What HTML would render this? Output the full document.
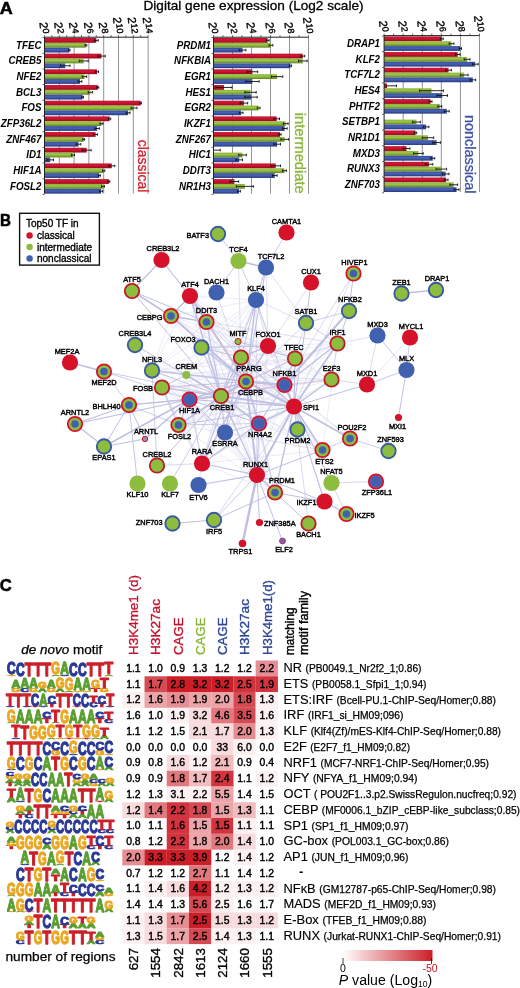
<!DOCTYPE html>
<html><head><meta charset="utf-8"><title>Figure</title>
<style>
html,body{margin:0;padding:0;background:#fff}
svg{display:block}
text{font-family:"Liberation Sans",sans-serif}
.tk{font-size:11.5px;stroke:#000;stroke-width:.35px}
.gene{font-size:10.8px;font-weight:bold;font-style:italic}
.nl{font-size:7.4px;stroke:#000;stroke-width:.42px}
.hv{font-size:10.4px;text-anchor:middle;stroke:#000;stroke-width:.42px}
.lg text{vector-effect:non-scaling-stroke}
</style></head><body>
<svg width="520" height="988" viewBox="0 0 520 988">
<rect width="520" height="988" fill="#fff"/>
<defs>
<linearGradient id="gr" x1="0" y1="0" x2="0" y2="1"><stop offset="0" stop-color="#c01030"/><stop offset="0.4" stop-color="#d01634"/><stop offset="1" stop-color="#980a1c"/></linearGradient>
<linearGradient id="gg" x1="0" y1="0" x2="0" y2="1"><stop offset="0" stop-color="#8ab23a"/><stop offset="0.4" stop-color="#a0c648"/><stop offset="1" stop-color="#5f8524"/></linearGradient>
<linearGradient id="gb" x1="0" y1="0" x2="0" y2="1"><stop offset="0" stop-color="#364c9c"/><stop offset="0.45" stop-color="#4763b8"/><stop offset="1" stop-color="#26387e"/></linearGradient>
</defs>
<text x="-0.3" y="13.8" font-size="16" font-weight="bold" stroke="#000" stroke-width="0.5" textLength="13" lengthAdjust="spacingAndGlyphs">A</text>
<text x="143.5" y="10.3" font-size="13.2" stroke="#000" stroke-width="0.3" textLength="220" lengthAdjust="spacingAndGlyphs">Digital gene expression (Log2 scale)</text>
<line x1="59.3" y1="37.2" x2="59.3" y2="193.6" stroke="#808080" stroke-width="0.85"/>
<line x1="74.1" y1="37.2" x2="74.1" y2="193.6" stroke="#808080" stroke-width="0.85"/>
<line x1="88.9" y1="37.2" x2="88.9" y2="193.6" stroke="#808080" stroke-width="0.85"/>
<line x1="103.7" y1="37.2" x2="103.7" y2="193.6" stroke="#808080" stroke-width="0.85"/>
<line x1="118.5" y1="37.2" x2="118.5" y2="193.6" stroke="#808080" stroke-width="0.85"/>
<line x1="133.3" y1="37.2" x2="133.3" y2="193.6" stroke="#808080" stroke-width="0.85"/>
<line x1="148.1" y1="37.2" x2="148.1" y2="193.6" stroke="#808080" stroke-width="0.85"/>
<text class="tk" transform="translate(40.5,33.9) rotate(85)" text-anchor="end" x="0" y="0">2<tspan dy="-2.6" font-size="9">0</tspan></text>
<text class="tk" transform="translate(55.3,33.9) rotate(85)" text-anchor="end" x="0" y="0">2<tspan dy="-2.6" font-size="9">2</tspan></text>
<text class="tk" transform="translate(70.1,33.9) rotate(85)" text-anchor="end" x="0" y="0">2<tspan dy="-2.6" font-size="9">4</tspan></text>
<text class="tk" transform="translate(84.9,33.9) rotate(85)" text-anchor="end" x="0" y="0">2<tspan dy="-2.6" font-size="9">6</tspan></text>
<text class="tk" transform="translate(99.7,33.9) rotate(85)" text-anchor="end" x="0" y="0">2<tspan dy="-2.6" font-size="9">8</tspan></text>
<text class="tk" transform="translate(114.5,33.9) rotate(85)" text-anchor="end" x="0" y="0">2<tspan dy="-2.6" font-size="9">10</tspan></text>
<text class="tk" transform="translate(129.3,33.9) rotate(85)" text-anchor="end" x="0" y="0">2<tspan dy="-2.6" font-size="9">12</tspan></text>
<text class="tk" transform="translate(144.1,33.9) rotate(85)" text-anchor="end" x="0" y="0">2<tspan dy="-2.6" font-size="9">14</tspan></text>
<rect x="44.5" y="38.00" width="51.8" height="4.8" fill="url(#gr)"/>
<path d="M94.5 40.40H98.2M98.2 39.10v2.6M94.5 39.10v2.6" stroke="#111" stroke-width="0.9" fill="none"/>
<rect x="44.5" y="42.85" width="41.4" height="4.8" fill="url(#gg)"/>
<path d="M85.1 45.25H86.8M86.8 43.95v2.6M85.1 43.95v2.6" stroke="#111" stroke-width="0.9" fill="none"/>
<rect x="44.5" y="47.70" width="24.8" height="4.8" fill="url(#gb)"/>
<path d="M68.6 50.10H70.0M70.0 48.80v2.6M68.6 48.80v2.6" stroke="#111" stroke-width="0.9" fill="none"/>
<text class="gene" x="41.5" y="48.5" text-anchor="end" textLength="25.5" lengthAdjust="spacingAndGlyphs">TFEC</text>
<rect x="44.5" y="53.68" width="57.0" height="4.8" fill="url(#gr)"/>
<path d="M97.8 56.08H105.2M105.2 54.78v2.6M97.8 54.78v2.6" stroke="#111" stroke-width="0.9" fill="none"/>
<rect x="44.5" y="58.53" width="39.2" height="4.8" fill="url(#gg)"/>
<path d="M79.3 60.93H88.2M88.2 59.63v2.6M79.3 59.63v2.6" stroke="#111" stroke-width="0.9" fill="none"/>
<rect x="44.5" y="63.38" width="20.7" height="4.8" fill="url(#gb)"/>
<path d="M60.4 65.78H70.0M70.0 64.48v2.6M60.4 64.48v2.6" stroke="#111" stroke-width="0.9" fill="none"/>
<text class="gene" x="41.5" y="64.2" text-anchor="end" textLength="33.1" lengthAdjust="spacingAndGlyphs">CREB5</text>
<rect x="44.5" y="69.36" width="52.5" height="4.8" fill="url(#gr)"/>
<path d="M95.6 71.76H98.5M98.5 70.46v2.6M95.6 70.46v2.6" stroke="#111" stroke-width="0.9" fill="none"/>
<rect x="44.5" y="74.21" width="40.0" height="4.8" fill="url(#gg)"/>
<path d="M82.2 76.61H86.7M86.7 75.31v2.6M82.2 75.31v2.6" stroke="#111" stroke-width="0.9" fill="none"/>
<rect x="44.5" y="79.06" width="35.5" height="4.8" fill="url(#gb)"/>
<path d="M78.2 81.46H81.9M81.9 80.16v2.6M78.2 80.16v2.6" stroke="#111" stroke-width="0.9" fill="none"/>
<text class="gene" x="41.5" y="79.9" text-anchor="end" textLength="25.0" lengthAdjust="spacingAndGlyphs">NFE2</text>
<rect x="44.5" y="85.04" width="53.3" height="4.8" fill="url(#gr)"/>
<path d="M96.9 87.44H98.7M98.7 86.14v2.6M96.9 86.14v2.6" stroke="#111" stroke-width="0.9" fill="none"/>
<rect x="44.5" y="89.89" width="45.9" height="4.8" fill="url(#gg)"/>
<path d="M88.2 92.29H92.6M92.6 90.99v2.6M88.2 90.99v2.6" stroke="#111" stroke-width="0.9" fill="none"/>
<rect x="44.5" y="94.74" width="38.1" height="4.8" fill="url(#gb)"/>
<path d="M81.7 97.14H83.5M83.5 95.84v2.6M81.7 95.84v2.6" stroke="#111" stroke-width="0.9" fill="none"/>
<text class="gene" x="41.5" y="95.5" text-anchor="end" textLength="25.5" lengthAdjust="spacingAndGlyphs">BCL3</text>
<rect x="44.5" y="100.72" width="96.2" height="4.8" fill="url(#gr)"/>
<path d="M140.0 103.12H141.4M141.4 101.82v2.6M140.0 101.82v2.6" stroke="#111" stroke-width="0.9" fill="none"/>
<rect x="44.5" y="105.57" width="89.5" height="4.8" fill="url(#gg)"/>
<path d="M131.1 107.97H137.0M137.0 106.67v2.6M131.1 106.67v2.6" stroke="#111" stroke-width="0.9" fill="none"/>
<rect x="44.5" y="110.42" width="83.6" height="4.8" fill="url(#gb)"/>
<path d="M126.3 112.82H130.0M130.0 111.52v2.6M126.3 111.52v2.6" stroke="#111" stroke-width="0.9" fill="none"/>
<text class="gene" x="41.5" y="111.2" text-anchor="end" textLength="20.1" lengthAdjust="spacingAndGlyphs">FOS</text>
<rect x="44.5" y="116.40" width="65.1" height="4.8" fill="url(#gr)"/>
<path d="M108.5 118.80H110.7M110.7 117.50v2.6M108.5 117.50v2.6" stroke="#111" stroke-width="0.9" fill="none"/>
<rect x="44.5" y="121.25" width="57.0" height="4.8" fill="url(#gg)"/>
<path d="M100.0 123.65H103.0M103.0 122.35v2.6M100.0 122.35v2.6" stroke="#111" stroke-width="0.9" fill="none"/>
<rect x="44.5" y="126.10" width="52.5" height="4.8" fill="url(#gb)"/>
<path d="M94.8 128.50H99.3M99.3 127.20v2.6M94.8 127.20v2.6" stroke="#111" stroke-width="0.9" fill="none"/>
<text class="gene" x="41.5" y="126.9" text-anchor="end" textLength="40.7" lengthAdjust="spacingAndGlyphs">ZFP36L2</text>
<rect x="44.5" y="132.08" width="51.1" height="4.8" fill="url(#gr)"/>
<path d="M93.7 134.48H97.4M97.4 133.18v2.6M93.7 133.18v2.6" stroke="#111" stroke-width="0.9" fill="none"/>
<rect x="44.5" y="136.93" width="39.2" height="4.8" fill="url(#gg)"/>
<path d="M82.8 139.33H84.6M84.6 138.03v2.6M82.8 138.03v2.6" stroke="#111" stroke-width="0.9" fill="none"/>
<rect x="44.5" y="141.78" width="34.0" height="4.8" fill="url(#gb)"/>
<path d="M76.3 144.18H80.8M80.8 142.88v2.6M76.3 142.88v2.6" stroke="#111" stroke-width="0.9" fill="none"/>
<text class="gene" x="41.5" y="142.6" text-anchor="end" textLength="35.3" lengthAdjust="spacingAndGlyphs">ZNF467</text>
<rect x="44.5" y="147.76" width="42.2" height="4.8" fill="url(#gr)"/>
<path d="M82.2 150.16H91.1M91.1 148.86v2.6M82.2 148.86v2.6" stroke="#111" stroke-width="0.9" fill="none"/>
<rect x="44.5" y="152.61" width="28.5" height="4.8" fill="url(#gg)"/>
<path d="M71.5 155.01H74.5M74.5 153.71v2.6M71.5 153.71v2.6" stroke="#111" stroke-width="0.9" fill="none"/>
<rect x="44.5" y="157.46" width="5.7" height="4.8" fill="url(#gb)"/>
<path d="M46.9 159.86H53.5M53.5 158.56v2.6M46.9 158.56v2.6" stroke="#111" stroke-width="0.9" fill="none"/>
<text class="gene" x="41.5" y="158.3" text-anchor="end" textLength="15.2" lengthAdjust="spacingAndGlyphs">ID1</text>
<rect x="44.5" y="163.44" width="67.3" height="4.8" fill="url(#gr)"/>
<path d="M108.9 165.84H114.8M114.8 164.54v2.6M108.9 164.54v2.6" stroke="#111" stroke-width="0.9" fill="none"/>
<rect x="44.5" y="168.29" width="59.2" height="4.8" fill="url(#gg)"/>
<path d="M102.6 170.69H104.8M104.8 169.39v2.6M102.6 169.39v2.6" stroke="#111" stroke-width="0.9" fill="none"/>
<rect x="44.5" y="173.14" width="54.8" height="4.8" fill="url(#gb)"/>
<path d="M98.2 175.54H100.4M100.4 174.24v2.6M98.2 174.24v2.6" stroke="#111" stroke-width="0.9" fill="none"/>
<text class="gene" x="41.5" y="173.9" text-anchor="end" textLength="28.2" lengthAdjust="spacingAndGlyphs">HIF1A</text>
<rect x="44.5" y="179.12" width="64.4" height="4.8" fill="url(#gr)"/>
<path d="M108.0 181.52H109.8M109.8 180.22v2.6M108.0 180.22v2.6" stroke="#111" stroke-width="0.9" fill="none"/>
<rect x="44.5" y="183.97" width="58.5" height="4.8" fill="url(#gg)"/>
<path d="M101.5 186.37H104.4M104.4 185.07v2.6M101.5 185.07v2.6" stroke="#111" stroke-width="0.9" fill="none"/>
<rect x="44.5" y="188.82" width="56.6" height="4.8" fill="url(#gb)"/>
<path d="M99.6 191.22H102.6M102.6 189.92v2.6M99.6 189.92v2.6" stroke="#111" stroke-width="0.9" fill="none"/>
<text class="gene" x="41.5" y="189.6" text-anchor="end" textLength="31.5" lengthAdjust="spacingAndGlyphs">FOSL2</text>
<path d="M44.5 37.2V193.6M44.5 37.2H148.1" stroke="#222" stroke-width="1" fill="none"/>
<line x1="44.5" y1="35.2" x2="44.5" y2="37.2" stroke="#222" stroke-width="0.7"/>
<line x1="51.9" y1="35.2" x2="51.9" y2="37.2" stroke="#222" stroke-width="0.7"/>
<line x1="59.3" y1="35.2" x2="59.3" y2="37.2" stroke="#222" stroke-width="0.7"/>
<line x1="66.7" y1="35.2" x2="66.7" y2="37.2" stroke="#222" stroke-width="0.7"/>
<line x1="74.1" y1="35.2" x2="74.1" y2="37.2" stroke="#222" stroke-width="0.7"/>
<line x1="81.5" y1="35.2" x2="81.5" y2="37.2" stroke="#222" stroke-width="0.7"/>
<line x1="88.9" y1="35.2" x2="88.9" y2="37.2" stroke="#222" stroke-width="0.7"/>
<line x1="96.3" y1="35.2" x2="96.3" y2="37.2" stroke="#222" stroke-width="0.7"/>
<line x1="103.7" y1="35.2" x2="103.7" y2="37.2" stroke="#222" stroke-width="0.7"/>
<line x1="111.1" y1="35.2" x2="111.1" y2="37.2" stroke="#222" stroke-width="0.7"/>
<line x1="118.5" y1="35.2" x2="118.5" y2="37.2" stroke="#222" stroke-width="0.7"/>
<line x1="125.9" y1="35.2" x2="125.9" y2="37.2" stroke="#222" stroke-width="0.7"/>
<line x1="133.3" y1="35.2" x2="133.3" y2="37.2" stroke="#222" stroke-width="0.7"/>
<line x1="140.7" y1="35.2" x2="140.7" y2="37.2" stroke="#222" stroke-width="0.7"/>
<line x1="148.1" y1="35.2" x2="148.1" y2="37.2" stroke="#222" stroke-width="0.7"/>
<line x1="42.5" y1="37.6" x2="44.5" y2="37.6" stroke="#222" stroke-width="0.7"/>
<line x1="42.5" y1="53.3" x2="44.5" y2="53.3" stroke="#222" stroke-width="0.7"/>
<line x1="42.5" y1="69.0" x2="44.5" y2="69.0" stroke="#222" stroke-width="0.7"/>
<line x1="42.5" y1="84.6" x2="44.5" y2="84.6" stroke="#222" stroke-width="0.7"/>
<line x1="42.5" y1="100.3" x2="44.5" y2="100.3" stroke="#222" stroke-width="0.7"/>
<line x1="42.5" y1="116.0" x2="44.5" y2="116.0" stroke="#222" stroke-width="0.7"/>
<line x1="42.5" y1="131.7" x2="44.5" y2="131.7" stroke="#222" stroke-width="0.7"/>
<line x1="42.5" y1="147.4" x2="44.5" y2="147.4" stroke="#222" stroke-width="0.7"/>
<line x1="42.5" y1="163.0" x2="44.5" y2="163.0" stroke="#222" stroke-width="0.7"/>
<line x1="42.5" y1="178.7" x2="44.5" y2="178.7" stroke="#222" stroke-width="0.7"/>
<line x1="42.5" y1="194.4" x2="44.5" y2="194.4" stroke="#222" stroke-width="0.7"/>
<text transform="translate(137.8,139.8) rotate(90)" font-size="14.3" fill="#cf1f2b" stroke="#cf1f2b" stroke-width="0.3" textLength="52.5" lengthAdjust="spacingAndGlyphs">classical</text>
<line x1="232.5" y1="37.2" x2="232.5" y2="193.6" stroke="#808080" stroke-width="0.85"/>
<line x1="251.5" y1="37.2" x2="251.5" y2="193.6" stroke="#808080" stroke-width="0.85"/>
<line x1="270.5" y1="37.2" x2="270.5" y2="193.6" stroke="#808080" stroke-width="0.85"/>
<line x1="289.5" y1="37.2" x2="289.5" y2="193.6" stroke="#808080" stroke-width="0.85"/>
<line x1="308.5" y1="37.2" x2="308.5" y2="193.6" stroke="#808080" stroke-width="0.85"/>
<text class="tk" transform="translate(209.5,33.9) rotate(85)" text-anchor="end" x="0" y="0">2<tspan dy="-2.6" font-size="9">0</tspan></text>
<text class="tk" transform="translate(228.5,33.9) rotate(85)" text-anchor="end" x="0" y="0">2<tspan dy="-2.6" font-size="9">2</tspan></text>
<text class="tk" transform="translate(247.5,33.9) rotate(85)" text-anchor="end" x="0" y="0">2<tspan dy="-2.6" font-size="9">4</tspan></text>
<text class="tk" transform="translate(266.5,33.9) rotate(85)" text-anchor="end" x="0" y="0">2<tspan dy="-2.6" font-size="9">6</tspan></text>
<text class="tk" transform="translate(285.5,33.9) rotate(85)" text-anchor="end" x="0" y="0">2<tspan dy="-2.6" font-size="9">8</tspan></text>
<text class="tk" transform="translate(304.5,33.9) rotate(85)" text-anchor="end" x="0" y="0">2<tspan dy="-2.6" font-size="9">10</tspan></text>
<rect x="213.5" y="38.00" width="54.1" height="4.8" fill="url(#gr)"/>
<path d="M266.2 40.40H269.1M269.1 39.10v2.6M266.2 39.10v2.6" stroke="#111" stroke-width="0.9" fill="none"/>
<rect x="213.5" y="42.85" width="57.5" height="4.8" fill="url(#gg)"/>
<path d="M269.1 45.25H272.9M272.9 43.95v2.6M269.1 43.95v2.6" stroke="#111" stroke-width="0.9" fill="none"/>
<rect x="213.5" y="47.70" width="29.1" height="4.8" fill="url(#gb)"/>
<path d="M239.2 50.10H245.9M245.9 48.80v2.6M239.2 48.80v2.6" stroke="#111" stroke-width="0.9" fill="none"/>
<text class="gene" x="211" y="48.5" text-anchor="end" textLength="34.2" lengthAdjust="spacingAndGlyphs">PRDM1</text>
<rect x="213.5" y="53.68" width="89.3" height="4.8" fill="url(#gr)"/>
<path d="M300.9 56.08H304.7M304.7 54.78v2.6M300.9 54.78v2.6" stroke="#111" stroke-width="0.9" fill="none"/>
<rect x="213.5" y="58.53" width="89.3" height="4.8" fill="url(#gg)"/>
<path d="M298.5 60.93H307.1M307.1 59.63v2.6M298.5 59.63v2.6" stroke="#111" stroke-width="0.9" fill="none"/>
<rect x="213.5" y="63.38" width="77.0" height="4.8" fill="url(#gb)"/>
<path d="M289.3 65.78H291.6M291.6 64.48v2.6M289.3 64.48v2.6" stroke="#111" stroke-width="0.9" fill="none"/>
<text class="gene" x="211" y="64.2" text-anchor="end" textLength="36.9" lengthAdjust="spacingAndGlyphs">NFKBIA</text>
<rect x="213.5" y="69.36" width="38.9" height="4.8" fill="url(#gr)"/>
<path d="M247.2 71.76H257.7M257.7 70.46v2.6M247.2 70.46v2.6" stroke="#111" stroke-width="0.9" fill="none"/>
<rect x="213.5" y="74.21" width="63.6" height="4.8" fill="url(#gg)"/>
<path d="M271.4 76.61H282.8M282.8 75.31v2.6M271.4 75.31v2.6" stroke="#111" stroke-width="0.9" fill="none"/>
<rect x="213.5" y="79.06" width="38.9" height="4.8" fill="url(#gb)"/>
<path d="M245.8 81.46H259.1M259.1 80.16v2.6M245.8 80.16v2.6" stroke="#111" stroke-width="0.9" fill="none"/>
<text class="gene" x="211" y="79.9" text-anchor="end" textLength="26.6" lengthAdjust="spacingAndGlyphs">EGR1</text>
<rect x="213.5" y="85.04" width="10.5" height="4.8" fill="url(#gr)"/>
<path d="M215.9 87.44H232.0M232.0 86.14v2.6M215.9 86.14v2.6" stroke="#111" stroke-width="0.9" fill="none"/>
<rect x="213.5" y="89.89" width="37.0" height="4.8" fill="url(#gg)"/>
<path d="M244.9 92.29H256.2M256.2 90.99v2.6M244.9 90.99v2.6" stroke="#111" stroke-width="0.9" fill="none"/>
<rect x="213.5" y="94.74" width="37.5" height="4.8" fill="url(#gb)"/>
<path d="M244.8 97.14H257.2M257.2 95.84v2.6M244.8 95.84v2.6" stroke="#111" stroke-width="0.9" fill="none"/>
<text class="gene" x="211" y="95.5" text-anchor="end" textLength="25.5" lengthAdjust="spacingAndGlyphs">HES1</text>
<rect x="213.5" y="100.72" width="30.4" height="4.8" fill="url(#gr)"/>
<path d="M240.1 103.12H247.7M247.7 101.82v2.6M240.1 101.82v2.6" stroke="#111" stroke-width="0.9" fill="none"/>
<rect x="213.5" y="105.57" width="45.2" height="4.8" fill="url(#gg)"/>
<path d="M257.3 107.97H260.1M260.1 106.67v2.6M257.3 106.67v2.6" stroke="#111" stroke-width="0.9" fill="none"/>
<rect x="213.5" y="110.42" width="27.6" height="4.8" fill="url(#gb)"/>
<path d="M239.2 112.82H243.0M243.0 111.52v2.6M239.2 111.52v2.6" stroke="#111" stroke-width="0.9" fill="none"/>
<text class="gene" x="211" y="111.2" text-anchor="end" textLength="26.6" lengthAdjust="spacingAndGlyphs">EGR2</text>
<rect x="213.5" y="116.40" width="63.2" height="4.8" fill="url(#gr)"/>
<path d="M273.8 118.80H279.5M279.5 117.50v2.6M273.8 117.50v2.6" stroke="#111" stroke-width="0.9" fill="none"/>
<rect x="213.5" y="121.25" width="72.2" height="4.8" fill="url(#gg)"/>
<path d="M283.3 123.65H288.1M288.1 122.35v2.6M283.3 122.35v2.6" stroke="#111" stroke-width="0.9" fill="none"/>
<rect x="213.5" y="126.10" width="71.2" height="4.8" fill="url(#gb)"/>
<path d="M282.4 128.50H287.1M287.1 127.20v2.6M282.4 127.20v2.6" stroke="#111" stroke-width="0.9" fill="none"/>
<text class="gene" x="211" y="126.9" text-anchor="end" textLength="27.1" lengthAdjust="spacingAndGlyphs">IKZF1</text>
<rect x="213.5" y="132.08" width="66.5" height="4.8" fill="url(#gr)"/>
<path d="M278.9 134.48H281.1M281.1 133.18v2.6M278.9 133.18v2.6" stroke="#111" stroke-width="0.9" fill="none"/>
<rect x="213.5" y="136.93" width="71.2" height="4.8" fill="url(#gg)"/>
<path d="M280.9 139.33H288.6M288.6 138.03v2.6M280.9 138.03v2.6" stroke="#111" stroke-width="0.9" fill="none"/>
<rect x="213.5" y="141.78" width="63.6" height="4.8" fill="url(#gb)"/>
<path d="M273.8 144.18H280.5M280.5 142.88v2.6M273.8 142.88v2.6" stroke="#111" stroke-width="0.9" fill="none"/>
<text class="gene" x="211" y="142.6" text-anchor="end" textLength="35.3" lengthAdjust="spacingAndGlyphs">ZNF267</text>
<path d="M213.5 150.16H220.2M220.2 148.86v2.6" stroke="#111" stroke-width="0.9" fill="none"/>
<rect x="213.5" y="152.61" width="29.0" height="4.8" fill="url(#gg)"/>
<path d="M238.7 155.01H246.3M246.3 153.71v2.6M238.7 153.71v2.6" stroke="#111" stroke-width="0.9" fill="none"/>
<rect x="213.5" y="157.46" width="25.7" height="4.8" fill="url(#gb)"/>
<path d="M235.8 159.86H242.5M242.5 158.56v2.6M235.8 158.56v2.6" stroke="#111" stroke-width="0.9" fill="none"/>
<text class="gene" x="211" y="158.3" text-anchor="end" textLength="22.3" lengthAdjust="spacingAndGlyphs">HIC1</text>
<rect x="213.5" y="163.44" width="62.2" height="4.8" fill="url(#gr)"/>
<path d="M271.0 165.84H280.5M280.5 164.54v2.6M271.0 164.54v2.6" stroke="#111" stroke-width="0.9" fill="none"/>
<rect x="213.5" y="168.29" width="71.0" height="4.8" fill="url(#gg)"/>
<path d="M282.6 170.69H286.4M286.4 169.39v2.6M282.6 169.39v2.6" stroke="#111" stroke-width="0.9" fill="none"/>
<rect x="213.5" y="173.14" width="61.3" height="4.8" fill="url(#gb)"/>
<path d="M272.4 175.54H277.1M277.1 174.24v2.6M272.4 174.24v2.6" stroke="#111" stroke-width="0.9" fill="none"/>
<text class="gene" x="211" y="173.9" text-anchor="end" textLength="28.2" lengthAdjust="spacingAndGlyphs">DDIT3</text>
<rect x="213.5" y="179.12" width="20.9" height="4.8" fill="url(#gr)"/>
<path d="M230.1 181.52H238.7M238.7 180.22v2.6M230.1 180.22v2.6" stroke="#111" stroke-width="0.9" fill="none"/>
<rect x="213.5" y="183.97" width="31.3" height="4.8" fill="url(#gg)"/>
<path d="M236.3 186.37H253.4M253.4 185.07v2.6M236.3 185.07v2.6" stroke="#111" stroke-width="0.9" fill="none"/>
<rect x="213.5" y="188.82" width="25.5" height="4.8" fill="url(#gb)"/>
<path d="M237.5 191.22H240.4M240.4 189.92v2.6M237.5 189.92v2.6" stroke="#111" stroke-width="0.9" fill="none"/>
<text class="gene" x="211" y="189.6" text-anchor="end" textLength="32.0" lengthAdjust="spacingAndGlyphs">NR1H3</text>
<path d="M213.5 37.2V193.6M213.5 37.2H308.5" stroke="#222" stroke-width="1" fill="none"/>
<line x1="213.5" y1="35.2" x2="213.5" y2="37.2" stroke="#222" stroke-width="0.7"/>
<line x1="223.0" y1="35.2" x2="223.0" y2="37.2" stroke="#222" stroke-width="0.7"/>
<line x1="232.5" y1="35.2" x2="232.5" y2="37.2" stroke="#222" stroke-width="0.7"/>
<line x1="242.0" y1="35.2" x2="242.0" y2="37.2" stroke="#222" stroke-width="0.7"/>
<line x1="251.5" y1="35.2" x2="251.5" y2="37.2" stroke="#222" stroke-width="0.7"/>
<line x1="261.0" y1="35.2" x2="261.0" y2="37.2" stroke="#222" stroke-width="0.7"/>
<line x1="270.5" y1="35.2" x2="270.5" y2="37.2" stroke="#222" stroke-width="0.7"/>
<line x1="280.0" y1="35.2" x2="280.0" y2="37.2" stroke="#222" stroke-width="0.7"/>
<line x1="289.5" y1="35.2" x2="289.5" y2="37.2" stroke="#222" stroke-width="0.7"/>
<line x1="299.0" y1="35.2" x2="299.0" y2="37.2" stroke="#222" stroke-width="0.7"/>
<line x1="308.5" y1="35.2" x2="308.5" y2="37.2" stroke="#222" stroke-width="0.7"/>
<line x1="211.5" y1="37.6" x2="213.5" y2="37.6" stroke="#222" stroke-width="0.7"/>
<line x1="211.5" y1="53.3" x2="213.5" y2="53.3" stroke="#222" stroke-width="0.7"/>
<line x1="211.5" y1="69.0" x2="213.5" y2="69.0" stroke="#222" stroke-width="0.7"/>
<line x1="211.5" y1="84.6" x2="213.5" y2="84.6" stroke="#222" stroke-width="0.7"/>
<line x1="211.5" y1="100.3" x2="213.5" y2="100.3" stroke="#222" stroke-width="0.7"/>
<line x1="211.5" y1="116.0" x2="213.5" y2="116.0" stroke="#222" stroke-width="0.7"/>
<line x1="211.5" y1="131.7" x2="213.5" y2="131.7" stroke="#222" stroke-width="0.7"/>
<line x1="211.5" y1="147.4" x2="213.5" y2="147.4" stroke="#222" stroke-width="0.7"/>
<line x1="211.5" y1="163.0" x2="213.5" y2="163.0" stroke="#222" stroke-width="0.7"/>
<line x1="211.5" y1="178.7" x2="213.5" y2="178.7" stroke="#222" stroke-width="0.7"/>
<line x1="211.5" y1="194.4" x2="213.5" y2="194.4" stroke="#222" stroke-width="0.7"/>
<text transform="translate(295.3,112.8) rotate(90)" font-size="13.8" fill="#8cb63c" stroke="#8cb63c" stroke-width="0.3" textLength="81" lengthAdjust="spacingAndGlyphs">intermediate</text>
<g transform="translate(0,-1.6)"><line x1="403.2" y1="37.2" x2="403.2" y2="193.6" stroke="#808080" stroke-width="0.85"/>
<line x1="422.3" y1="37.2" x2="422.3" y2="193.6" stroke="#808080" stroke-width="0.85"/>
<line x1="441.3" y1="37.2" x2="441.3" y2="193.6" stroke="#808080" stroke-width="0.85"/>
<line x1="460.4" y1="37.2" x2="460.4" y2="193.6" stroke="#808080" stroke-width="0.85"/>
<line x1="479.5" y1="37.2" x2="479.5" y2="193.6" stroke="#808080" stroke-width="0.85"/>
<text class="tk" transform="translate(380.1,33.9) rotate(85)" text-anchor="end" x="0" y="0">2<tspan dy="-2.6" font-size="9">0</tspan></text>
<text class="tk" transform="translate(399.2,33.9) rotate(85)" text-anchor="end" x="0" y="0">2<tspan dy="-2.6" font-size="9">2</tspan></text>
<text class="tk" transform="translate(418.3,33.9) rotate(85)" text-anchor="end" x="0" y="0">2<tspan dy="-2.6" font-size="9">4</tspan></text>
<text class="tk" transform="translate(437.3,33.9) rotate(85)" text-anchor="end" x="0" y="0">2<tspan dy="-2.6" font-size="9">6</tspan></text>
<text class="tk" transform="translate(456.4,33.9) rotate(85)" text-anchor="end" x="0" y="0">2<tspan dy="-2.6" font-size="9">8</tspan></text>
<text class="tk" transform="translate(475.5,33.9) rotate(85)" text-anchor="end" x="0" y="0">2<tspan dy="-2.6" font-size="9">10</tspan></text>
<rect x="384.1" y="38.00" width="57.7" height="4.8" fill="url(#gr)"/>
<path d="M440.4 40.40H443.2M443.2 39.10v2.6M440.4 39.10v2.6" stroke="#111" stroke-width="0.9" fill="none"/>
<rect x="384.1" y="42.85" width="67.4" height="4.8" fill="url(#gg)"/>
<path d="M449.2 45.25H453.9M453.9 43.95v2.6M449.2 43.95v2.6" stroke="#111" stroke-width="0.9" fill="none"/>
<rect x="384.1" y="47.70" width="76.2" height="4.8" fill="url(#gb)"/>
<path d="M459.2 50.10H461.5M461.5 48.80v2.6M459.2 48.80v2.6" stroke="#111" stroke-width="0.9" fill="none"/>
<text class="gene" x="380" y="48.5" text-anchor="end" textLength="33.1" lengthAdjust="spacingAndGlyphs">DRAP1</text>
<rect x="384.1" y="53.68" width="73.6" height="4.8" fill="url(#gr)"/>
<path d="M455.4 56.08H460.1M460.1 54.78v2.6M455.4 54.78v2.6" stroke="#111" stroke-width="0.9" fill="none"/>
<rect x="384.1" y="58.53" width="83.0" height="4.8" fill="url(#gg)"/>
<path d="M464.2 60.93H470.0M470.0 59.63v2.6M464.2 59.63v2.6" stroke="#111" stroke-width="0.9" fill="none"/>
<rect x="384.1" y="63.38" width="91.1" height="4.8" fill="url(#gb)"/>
<path d="M472.3 65.78H478.1M478.1 64.48v2.6M472.3 64.48v2.6" stroke="#111" stroke-width="0.9" fill="none"/>
<text class="gene" x="380" y="64.2" text-anchor="end" textLength="24.4" lengthAdjust="spacingAndGlyphs">KLF2</text>
<rect x="384.1" y="69.36" width="64.4" height="4.8" fill="url(#gr)"/>
<path d="M445.6 71.76H451.4M451.4 70.46v2.6M445.6 70.46v2.6" stroke="#111" stroke-width="0.9" fill="none"/>
<rect x="384.1" y="74.21" width="80.1" height="4.8" fill="url(#gg)"/>
<path d="M460.4 76.61H468.1M468.1 75.31v2.6M460.4 75.31v2.6" stroke="#111" stroke-width="0.9" fill="none"/>
<rect x="384.1" y="79.06" width="88.7" height="4.8" fill="url(#gb)"/>
<path d="M470.0 81.46H475.7M475.7 80.16v2.6M470.0 80.16v2.6" stroke="#111" stroke-width="0.9" fill="none"/>
<text class="gene" x="380" y="79.9" text-anchor="end" textLength="35.8" lengthAdjust="spacingAndGlyphs">TCF7L2</text>
<rect x="384.1" y="85.04" width="2.9" height="4.8" fill="url(#gr)"/>
<path d="M384.1 87.44H396.5M396.5 86.14v2.6" stroke="#111" stroke-width="0.9" fill="none"/>
<rect x="384.1" y="89.89" width="47.4" height="4.8" fill="url(#gg)"/>
<path d="M419.6 92.29H443.4M443.4 90.99v2.6M419.6 90.99v2.6" stroke="#111" stroke-width="0.9" fill="none"/>
<rect x="384.1" y="94.74" width="58.2" height="4.8" fill="url(#gb)"/>
<path d="M437.0 97.14H447.5M447.5 95.84v2.6M437.0 95.84v2.6" stroke="#111" stroke-width="0.9" fill="none"/>
<text class="gene" x="380" y="95.5" text-anchor="end" textLength="25.5" lengthAdjust="spacingAndGlyphs">HES4</text>
<rect x="384.1" y="100.72" width="46.5" height="4.8" fill="url(#gr)"/>
<path d="M429.1 103.12H432.0M432.0 101.82v2.6M429.1 101.82v2.6" stroke="#111" stroke-width="0.9" fill="none"/>
<rect x="384.1" y="105.57" width="55.7" height="4.8" fill="url(#gg)"/>
<path d="M437.9 107.97H441.7M441.7 106.67v2.6M437.9 106.67v2.6" stroke="#111" stroke-width="0.9" fill="none"/>
<rect x="384.1" y="110.42" width="62.7" height="4.8" fill="url(#gb)"/>
<path d="M444.4 112.82H449.2M449.2 111.52v2.6M444.4 111.52v2.6" stroke="#111" stroke-width="0.9" fill="none"/>
<text class="gene" x="380" y="111.2" text-anchor="end" textLength="31.0" lengthAdjust="spacingAndGlyphs">PHTF2</text>
<rect x="384.1" y="121.25" width="32.4" height="4.8" fill="url(#gg)"/>
<path d="M412.7 123.65H420.4M420.4 122.35v2.6M412.7 122.35v2.6" stroke="#111" stroke-width="0.9" fill="none"/>
<rect x="384.1" y="126.10" width="42.0" height="4.8" fill="url(#gb)"/>
<path d="M423.2 128.50H428.9M428.9 127.20v2.6M423.2 127.20v2.6" stroke="#111" stroke-width="0.9" fill="none"/>
<text class="gene" x="380" y="126.9" text-anchor="end" textLength="38.0" lengthAdjust="spacingAndGlyphs">SETBP1</text>
<rect x="384.1" y="132.08" width="31.5" height="4.8" fill="url(#gr)"/>
<path d="M414.4 134.48H416.7M416.7 133.18v2.6M414.4 133.18v2.6" stroke="#111" stroke-width="0.9" fill="none"/>
<rect x="384.1" y="136.93" width="43.9" height="4.8" fill="url(#gg)"/>
<path d="M422.3 139.33H433.7M433.7 138.03v2.6M422.3 138.03v2.6" stroke="#111" stroke-width="0.9" fill="none"/>
<rect x="384.1" y="141.78" width="52.5" height="4.8" fill="url(#gb)"/>
<path d="M432.8 144.18H440.4M440.4 142.88v2.6M432.8 142.88v2.6" stroke="#111" stroke-width="0.9" fill="none"/>
<text class="gene" x="380" y="142.6" text-anchor="end" textLength="32.0" lengthAdjust="spacingAndGlyphs">NR1D1</text>
<rect x="384.1" y="147.76" width="22.4" height="4.8" fill="url(#gr)"/>
<path d="M403.2 150.16H409.9M409.9 148.86v2.6M403.2 148.86v2.6" stroke="#111" stroke-width="0.9" fill="none"/>
<rect x="384.1" y="152.61" width="34.3" height="4.8" fill="url(#gg)"/>
<path d="M413.7 155.01H423.2M423.2 153.71v2.6M413.7 153.71v2.6" stroke="#111" stroke-width="0.9" fill="none"/>
<rect x="384.1" y="157.46" width="48.7" height="4.8" fill="url(#gb)"/>
<path d="M430.8 159.86H434.7M434.7 158.56v2.6M430.8 158.56v2.6" stroke="#111" stroke-width="0.9" fill="none"/>
<text class="gene" x="380" y="158.3" text-anchor="end" textLength="27.2" lengthAdjust="spacingAndGlyphs">MXD3</text>
<rect x="384.1" y="163.44" width="44.8" height="4.8" fill="url(#gr)"/>
<path d="M425.1 165.84H432.8M432.8 164.54v2.6M425.1 164.54v2.6" stroke="#111" stroke-width="0.9" fill="none"/>
<rect x="384.1" y="168.29" width="57.2" height="4.8" fill="url(#gg)"/>
<path d="M436.1 170.69H446.6M446.6 169.39v2.6M436.1 169.39v2.6" stroke="#111" stroke-width="0.9" fill="none"/>
<rect x="384.1" y="173.14" width="61.5" height="4.8" fill="url(#gb)"/>
<path d="M442.3 175.54H449.0M449.0 174.24v2.6M442.3 174.24v2.6" stroke="#111" stroke-width="0.9" fill="none"/>
<text class="gene" x="380" y="173.9" text-anchor="end" textLength="33.1" lengthAdjust="spacingAndGlyphs">RUNX3</text>
<rect x="384.1" y="179.12" width="62.0" height="4.8" fill="url(#gr)"/>
<path d="M444.2 181.52H448.0M448.0 180.22v2.6M444.2 180.22v2.6" stroke="#111" stroke-width="0.9" fill="none"/>
<rect x="384.1" y="183.97" width="69.6" height="4.8" fill="url(#gg)"/>
<path d="M449.9 186.37H457.6M457.6 185.07v2.6M449.9 185.07v2.6" stroke="#111" stroke-width="0.9" fill="none"/>
<rect x="384.1" y="188.82" width="72.5" height="4.8" fill="url(#gb)"/>
<path d="M454.2 191.22H459.0M459.0 189.92v2.6M454.2 189.92v2.6" stroke="#111" stroke-width="0.9" fill="none"/>
<text class="gene" x="380" y="189.6" text-anchor="end" textLength="35.3" lengthAdjust="spacingAndGlyphs">ZNF703</text>
<path d="M384.1 37.2V193.6M384.1 37.2H479.5" stroke="#222" stroke-width="1" fill="none"/>
<line x1="384.1" y1="35.2" x2="384.1" y2="37.2" stroke="#222" stroke-width="0.7"/>
<line x1="393.6" y1="35.2" x2="393.6" y2="37.2" stroke="#222" stroke-width="0.7"/>
<line x1="403.2" y1="35.2" x2="403.2" y2="37.2" stroke="#222" stroke-width="0.7"/>
<line x1="412.7" y1="35.2" x2="412.7" y2="37.2" stroke="#222" stroke-width="0.7"/>
<line x1="422.3" y1="35.2" x2="422.3" y2="37.2" stroke="#222" stroke-width="0.7"/>
<line x1="431.8" y1="35.2" x2="431.8" y2="37.2" stroke="#222" stroke-width="0.7"/>
<line x1="441.3" y1="35.2" x2="441.3" y2="37.2" stroke="#222" stroke-width="0.7"/>
<line x1="450.9" y1="35.2" x2="450.9" y2="37.2" stroke="#222" stroke-width="0.7"/>
<line x1="460.4" y1="35.2" x2="460.4" y2="37.2" stroke="#222" stroke-width="0.7"/>
<line x1="470.0" y1="35.2" x2="470.0" y2="37.2" stroke="#222" stroke-width="0.7"/>
<line x1="479.5" y1="35.2" x2="479.5" y2="37.2" stroke="#222" stroke-width="0.7"/>
<line x1="382.1" y1="37.6" x2="384.1" y2="37.6" stroke="#222" stroke-width="0.7"/>
<line x1="382.1" y1="53.3" x2="384.1" y2="53.3" stroke="#222" stroke-width="0.7"/>
<line x1="382.1" y1="69.0" x2="384.1" y2="69.0" stroke="#222" stroke-width="0.7"/>
<line x1="382.1" y1="84.6" x2="384.1" y2="84.6" stroke="#222" stroke-width="0.7"/>
<line x1="382.1" y1="100.3" x2="384.1" y2="100.3" stroke="#222" stroke-width="0.7"/>
<line x1="382.1" y1="116.0" x2="384.1" y2="116.0" stroke="#222" stroke-width="0.7"/>
<line x1="382.1" y1="131.7" x2="384.1" y2="131.7" stroke="#222" stroke-width="0.7"/>
<line x1="382.1" y1="147.4" x2="384.1" y2="147.4" stroke="#222" stroke-width="0.7"/>
<line x1="382.1" y1="163.0" x2="384.1" y2="163.0" stroke="#222" stroke-width="0.7"/>
<line x1="382.1" y1="178.7" x2="384.1" y2="178.7" stroke="#222" stroke-width="0.7"/>
<line x1="382.1" y1="194.4" x2="384.1" y2="194.4" stroke="#222" stroke-width="0.7"/>
<text transform="translate(464.5,116.6) rotate(90)" font-size="14.3" fill="#3a53a4" stroke="#3a53a4" stroke-width="0.3" textLength="78.5" lengthAdjust="spacingAndGlyphs">nonclassical</text></g>
<text x="0" y="226.2" font-size="15.8" font-weight="bold" stroke="#000" stroke-width="0.5" textLength="11" lengthAdjust="spacingAndGlyphs">B</text>
<g stroke="#adb0dc" stroke-linecap="round" opacity="0.8">
<line x1="161.5" y1="260" x2="132" y2="291" stroke-width="1.2"/>
<line x1="161.5" y1="260" x2="190" y2="296" stroke-width="1.2"/>
<line x1="132" y1="291" x2="171" y2="316" stroke-width="1.5"/>
<line x1="190" y1="296" x2="171" y2="316" stroke-width="1.5"/>
<line x1="190" y1="296" x2="206.5" y2="322" stroke-width="1.8"/>
<line x1="171" y1="316" x2="206.5" y2="322" stroke-width="1.5"/>
<line x1="132" y1="291" x2="206.5" y2="322" stroke-width="1"/>
<line x1="190" y1="296" x2="246" y2="381.5" stroke-width="1.5"/>
<line x1="171" y1="316" x2="246" y2="381.5" stroke-width="1.8"/>
<line x1="206.5" y1="322" x2="246" y2="381.5" stroke-width="2"/>
<line x1="132" y1="291" x2="221" y2="396" stroke-width="1"/>
<line x1="190" y1="296" x2="221" y2="396" stroke-width="1.5"/>
<line x1="218" y1="234" x2="238.5" y2="261" stroke-width="0.8"/>
<line x1="238.5" y1="261" x2="266" y2="267.5" stroke-width="1.5"/>
<line x1="238.5" y1="261" x2="256" y2="300" stroke-width="0.8"/>
<line x1="238.5" y1="261" x2="216.5" y2="292.5" stroke-width="0.8"/>
<line x1="266" y1="267.5" x2="256" y2="300" stroke-width="1"/>
<line x1="266" y1="267.5" x2="246" y2="381.5" stroke-width="1"/>
<line x1="286.5" y1="232.5" x2="266" y2="267.5" stroke-width="0.8"/>
<line x1="311" y1="282.5" x2="306" y2="323" stroke-width="1"/>
<line x1="353.5" y1="273.5" x2="349" y2="311" stroke-width="1"/>
<line x1="349" y1="311" x2="284.5" y2="385" stroke-width="2"/>
<line x1="349" y1="311" x2="337.5" y2="343.5" stroke-width="1"/>
<line x1="349" y1="311" x2="306" y2="323" stroke-width="0.8"/>
<line x1="401.5" y1="293.5" x2="436" y2="290" stroke-width="1.5"/>
<line x1="377.5" y1="335.5" x2="406.5" y2="370" stroke-width="0.9"/>
<line x1="377.5" y1="335.5" x2="367" y2="384.5" stroke-width="0.6"/>
<line x1="406.5" y1="370" x2="367" y2="384.5" stroke-width="0.9"/>
<line x1="306" y1="323" x2="337.5" y2="343.5" stroke-width="0.7"/>
<line x1="306" y1="323" x2="294" y2="406.5" stroke-width="1.0"/>
<line x1="337.5" y1="343.5" x2="377.5" y2="335.5" stroke-width="0.5"/>
<line x1="410" y1="337.5" x2="367" y2="384.5" stroke-width="0.4"/>
<line x1="406.5" y1="370" x2="398.5" y2="417.5" stroke-width="1"/>
<line x1="406.5" y1="370" x2="410" y2="337.5" stroke-width="0.8"/>
<line x1="70" y1="362.5" x2="104" y2="371.5" stroke-width="1.5"/>
<line x1="104" y1="371.5" x2="129" y2="405" stroke-width="0.8"/>
<line x1="104" y1="371.5" x2="221" y2="396" stroke-width="0.8"/>
<line x1="104" y1="371.5" x2="189.5" y2="399.5" stroke-width="0.8"/>
<line x1="75" y1="424" x2="129" y2="405" stroke-width="1.2"/>
<line x1="75" y1="424" x2="104" y2="446.5" stroke-width="1.2"/>
<line x1="75" y1="424" x2="189.5" y2="399.5" stroke-width="1.2"/>
<line x1="104" y1="446.5" x2="189.5" y2="399.5" stroke-width="1.5"/>
<line x1="104" y1="446.5" x2="145" y2="439" stroke-width="1"/>
<line x1="145" y1="439" x2="189.5" y2="399.5" stroke-width="1.5"/>
<line x1="129" y1="405" x2="189.5" y2="399.5" stroke-width="1.2"/>
<line x1="145" y1="439" x2="129" y2="405" stroke-width="1"/>
<line x1="129" y1="405" x2="221" y2="396" stroke-width="1"/>
<line x1="129" y1="405" x2="178.5" y2="425" stroke-width="0.8"/>
<line x1="129" y1="405" x2="137.5" y2="483.5" stroke-width="0.9"/>
<line x1="104" y1="446.5" x2="129" y2="405" stroke-width="1"/>
<line x1="170" y1="483.5" x2="221" y2="396" stroke-width="0.8"/>
<line x1="157" y1="465.5" x2="152" y2="370.5" stroke-width="0.8"/>
<line x1="157" y1="465.5" x2="221" y2="396" stroke-width="1"/>
<line x1="198.5" y1="485" x2="257" y2="475" stroke-width="1.2"/>
<line x1="172.5" y1="523.5" x2="214" y2="520" stroke-width="1"/>
<line x1="214" y1="520" x2="275" y2="492.5" stroke-width="1"/>
<line x1="214" y1="520" x2="294" y2="406.5" stroke-width="0.6"/>
<line x1="294" y1="406.5" x2="308.5" y2="523.5" stroke-width="0.6"/>
<line x1="266" y1="267.5" x2="306" y2="323" stroke-width="0.5"/>
<line x1="256" y1="300" x2="306" y2="323" stroke-width="0.5"/>
<line x1="353.5" y1="273.5" x2="284.5" y2="385" stroke-width="0.6"/>
<line x1="256" y1="300" x2="257" y2="475" stroke-width="0.6"/>
<line x1="214" y1="520" x2="257" y2="475" stroke-width="0.8"/>
<line x1="350" y1="438.5" x2="388.5" y2="451" stroke-width="0.8"/>
<line x1="350" y1="438.5" x2="294" y2="406.5" stroke-width="1.5"/>
<line x1="322.5" y1="450" x2="294" y2="406.5" stroke-width="1.5"/>
<line x1="331.5" y1="483" x2="376" y2="481.5" stroke-width="0.6"/>
<line x1="324.5" y1="501.5" x2="346.5" y2="514" stroke-width="1.2"/>
<line x1="324.5" y1="501.5" x2="294" y2="406.5" stroke-width="1.1"/>
<line x1="275" y1="492.5" x2="324.5" y2="501.5" stroke-width="1"/>
<line x1="275" y1="492.5" x2="308.5" y2="523.5" stroke-width="1"/>
<line x1="275" y1="492.5" x2="294" y2="406.5" stroke-width="1.3"/>
<line x1="275" y1="492.5" x2="257" y2="475" stroke-width="1.5"/>
<line x1="257" y1="475" x2="294" y2="406.5" stroke-width="2.0"/>
<line x1="257" y1="475" x2="242.5" y2="543.5" stroke-width="2.4"/>
<line x1="257" y1="475" x2="259.5" y2="522.5" stroke-width="1"/>
<line x1="257" y1="475" x2="282.5" y2="541" stroke-width="1"/>
<line x1="257" y1="475" x2="202" y2="463.5" stroke-width="1.2"/>
<line x1="257" y1="475" x2="246" y2="381.5" stroke-width="2"/>
<line x1="257" y1="475" x2="324.5" y2="501.5" stroke-width="1"/>
<line x1="257" y1="475" x2="259" y2="423.5" stroke-width="1"/>
<line x1="257" y1="475" x2="221" y2="396" stroke-width="1.2"/>
<line x1="257" y1="475" x2="225" y2="432.5" stroke-width="0.8"/>
<line x1="294" y1="406.5" x2="246" y2="381.5" stroke-width="2.5"/>
<line x1="294" y1="406.5" x2="284.5" y2="385" stroke-width="2"/>
<line x1="294" y1="406.5" x2="337.5" y2="343.5" stroke-width="1.8"/>
<line x1="294" y1="406.5" x2="331.5" y2="379.5" stroke-width="1.2"/>
<line x1="294" y1="406.5" x2="367" y2="384.5" stroke-width="1"/>
<line x1="294" y1="406.5" x2="295" y2="358.5" stroke-width="1.2"/>
<line x1="294" y1="406.5" x2="221" y2="396" stroke-width="2"/>
<line x1="294" y1="406.5" x2="259" y2="423.5" stroke-width="1.5"/>
<line x1="294" y1="406.5" x2="178.5" y2="425" stroke-width="1"/>
<line x1="294" y1="406.5" x2="297.5" y2="429.5" stroke-width="0.8"/>
<line x1="294" y1="406.5" x2="241" y2="357.5" stroke-width="1.2"/>
<line x1="294" y1="406.5" x2="189.5" y2="399.5" stroke-width="1.2"/>
<line x1="294" y1="406.5" x2="331.5" y2="483" stroke-width="0.8"/>
<line x1="294" y1="406.5" x2="346.5" y2="514" stroke-width="0.6"/>
<line x1="152" y1="370.5" x2="246" y2="381.5" stroke-width="1.5"/>
<line x1="152" y1="370.5" x2="221" y2="396" stroke-width="1"/>
<line x1="162" y1="387.5" x2="221" y2="396" stroke-width="1.5"/>
<line x1="162" y1="387.5" x2="178.5" y2="425" stroke-width="1"/>
<line x1="162" y1="387.5" x2="246" y2="381.5" stroke-width="1"/>
<line x1="186.3" y1="375" x2="221" y2="396" stroke-width="1.5"/>
<line x1="186.3" y1="375" x2="162" y2="387.5" stroke-width="0.8"/>
<line x1="135" y1="345" x2="221" y2="396" stroke-width="1"/>
<line x1="135" y1="345" x2="152" y2="370.5" stroke-width="0.6"/>
<line x1="201.5" y1="347.5" x2="268" y2="346" stroke-width="1.2"/>
<line x1="201.5" y1="347.5" x2="246" y2="381.5" stroke-width="1.2"/>
<line x1="268" y1="346" x2="246" y2="381.5" stroke-width="1.5"/>
<line x1="268" y1="346" x2="241" y2="357.5" stroke-width="1.5"/>
<line x1="201.5" y1="347.5" x2="241" y2="357.5" stroke-width="1"/>
<line x1="201.5" y1="347.5" x2="221" y2="396" stroke-width="0.8"/>
<line x1="241" y1="357.5" x2="246" y2="381.5" stroke-width="2.5"/>
<line x1="241" y1="357.5" x2="202" y2="463.5" stroke-width="1.2"/>
<line x1="238" y1="341.5" x2="241" y2="357.5" stroke-width="0.8"/>
<line x1="238" y1="341.5" x2="295" y2="358.5" stroke-width="1"/>
<line x1="238" y1="341.5" x2="246" y2="381.5" stroke-width="0.6"/>
<line x1="221" y1="396" x2="246" y2="381.5" stroke-width="2.5"/>
<line x1="221" y1="396" x2="189.5" y2="399.5" stroke-width="2"/>
<line x1="221" y1="396" x2="178.5" y2="425" stroke-width="1.5"/>
<line x1="221" y1="396" x2="259" y2="423.5" stroke-width="1.8"/>
<line x1="221" y1="396" x2="225" y2="432.5" stroke-width="1"/>
<line x1="221" y1="396" x2="241" y2="357.5" stroke-width="1.5"/>
<line x1="225" y1="432.5" x2="241" y2="357.5" stroke-width="1.2"/>
<line x1="225" y1="432.5" x2="189.5" y2="399.5" stroke-width="1"/>
<line x1="225" y1="432.5" x2="259" y2="423.5" stroke-width="1"/>
<line x1="256" y1="300" x2="246" y2="381.5" stroke-width="1.5"/>
<line x1="256" y1="300" x2="241" y2="357.5" stroke-width="1"/>
<line x1="256" y1="300" x2="221" y2="396" stroke-width="1"/>
<line x1="256" y1="300" x2="294" y2="406.5" stroke-width="0.8"/>
<line x1="256" y1="300" x2="268" y2="346" stroke-width="0.6"/>
<line x1="337.5" y1="343.5" x2="284.5" y2="385" stroke-width="1.5"/>
<line x1="337.5" y1="343.5" x2="331.5" y2="379.5" stroke-width="0.6"/>
<line x1="337.5" y1="343.5" x2="295" y2="358.5" stroke-width="0.6"/>
<line x1="306" y1="323" x2="284.5" y2="385" stroke-width="0.6"/>
<line x1="306" y1="323" x2="246" y2="381.5" stroke-width="0.6"/>
<line x1="246" y1="381.5" x2="284.5" y2="385" stroke-width="2.5"/>
<line x1="246" y1="381.5" x2="189.5" y2="399.5" stroke-width="1.5"/>
<line x1="246" y1="381.5" x2="178.5" y2="425" stroke-width="1.2"/>
<line x1="246" y1="381.5" x2="259" y2="423.5" stroke-width="1.5"/>
<line x1="246" y1="381.5" x2="202" y2="463.5" stroke-width="1.5"/>
<line x1="246" y1="381.5" x2="295" y2="358.5" stroke-width="1"/>
<line x1="246" y1="381.5" x2="225" y2="432.5" stroke-width="0.8"/>
<line x1="284.5" y1="385" x2="259" y2="423.5" stroke-width="1.2"/>
<line x1="284.5" y1="385" x2="189.5" y2="399.5" stroke-width="1.2"/>
<line x1="284.5" y1="385" x2="295" y2="358.5" stroke-width="0.8"/>
<line x1="284.5" y1="385" x2="331.5" y2="379.5" stroke-width="0.8"/>
<line x1="284.5" y1="385" x2="241" y2="357.5" stroke-width="1"/>
<line x1="189.5" y1="399.5" x2="178.5" y2="425" stroke-width="1.2"/>
<line x1="189.5" y1="399.5" x2="259" y2="423.5" stroke-width="1"/>
<line x1="189.5" y1="399.5" x2="202" y2="463.5" stroke-width="0.8"/>
<line x1="178.5" y1="425" x2="202" y2="463.5" stroke-width="0.6"/>
<line x1="178.5" y1="425" x2="259" y2="423.5" stroke-width="0.8"/>
<line x1="202" y1="463.5" x2="259" y2="423.5" stroke-width="1.2"/>
<line x1="202" y1="463.5" x2="157" y2="465.5" stroke-width="0.6"/>
<line x1="202" y1="463.5" x2="225" y2="432.5" stroke-width="0.8"/>
<line x1="202" y1="463.5" x2="198.5" y2="485" stroke-width="0.5"/>
<line x1="331.5" y1="379.5" x2="367" y2="384.5" stroke-width="0.6"/>
<line x1="216.5" y1="292.5" x2="246" y2="381.5" stroke-width="0.6"/>
<line x1="206.5" y1="322" x2="221" y2="396" stroke-width="1.2"/>
<line x1="206.5" y1="322" x2="241" y2="357.5" stroke-width="0.8"/>
<line x1="322.5" y1="450" x2="350" y2="438.5" stroke-width="0.8"/>
<line x1="322.5" y1="450" x2="257" y2="475" stroke-width="1"/>
<line x1="350" y1="438.5" x2="284.5" y2="385" stroke-width="0.6"/>
<line x1="259" y1="423.5" x2="275" y2="492.5" stroke-width="0.6"/>
<line x1="311" y1="282.5" x2="246" y2="381.5" stroke-width="0.5"/>
<line x1="353.5" y1="273.5" x2="294" y2="406.5" stroke-width="0.5"/>
</g>
<g stroke="#c3c6e6" stroke-linecap="round" opacity="0.7">
<line x1="246" y1="381.5" x2="337.5" y2="343.5" stroke-width="0.5"/>
<line x1="246" y1="381.5" x2="331.5" y2="379.5" stroke-width="0.5"/>
<line x1="246" y1="381.5" x2="275" y2="492.5" stroke-width="0.5"/>
<line x1="221" y1="396" x2="284.5" y2="385" stroke-width="0.5"/>
<line x1="221" y1="396" x2="268" y2="346" stroke-width="0.5"/>
<line x1="221" y1="396" x2="202" y2="463.5" stroke-width="0.5"/>
<line x1="221" y1="396" x2="331.5" y2="379.5" stroke-width="0.5"/>
<line x1="221" y1="396" x2="171" y2="316" stroke-width="0.5"/>
<line x1="221" y1="396" x2="322.5" y2="450" stroke-width="0.5"/>
<line x1="284.5" y1="385" x2="178.5" y2="425" stroke-width="0.5"/>
<line x1="284.5" y1="385" x2="268" y2="346" stroke-width="0.5"/>
<line x1="284.5" y1="385" x2="225" y2="432.5" stroke-width="0.5"/>
<line x1="284.5" y1="385" x2="206.5" y2="322" stroke-width="0.5"/>
<line x1="284.5" y1="385" x2="190" y2="296" stroke-width="0.5"/>
<line x1="284.5" y1="385" x2="256" y2="300" stroke-width="0.5"/>
<line x1="284.5" y1="385" x2="171" y2="316" stroke-width="0.5"/>
<line x1="284.5" y1="385" x2="186.3" y2="375" stroke-width="0.5"/>
<line x1="294" y1="406.5" x2="162" y2="387.5" stroke-width="0.5"/>
<line x1="294" y1="406.5" x2="201.5" y2="347.5" stroke-width="0.5"/>
<line x1="294" y1="406.5" x2="268" y2="346" stroke-width="0.5"/>
<line x1="294" y1="406.5" x2="202" y2="463.5" stroke-width="0.5"/>
<line x1="294" y1="406.5" x2="190" y2="296" stroke-width="0.5"/>
<line x1="294" y1="406.5" x2="186.3" y2="375" stroke-width="0.5"/>
<line x1="241" y1="357.5" x2="178.5" y2="425" stroke-width="0.5"/>
<line x1="241" y1="357.5" x2="190" y2="296" stroke-width="0.5"/>
<line x1="241" y1="357.5" x2="331.5" y2="379.5" stroke-width="0.5"/>
<line x1="241" y1="357.5" x2="171" y2="316" stroke-width="0.5"/>
<line x1="241" y1="357.5" x2="275" y2="492.5" stroke-width="0.5"/>
<line x1="189.5" y1="399.5" x2="162" y2="387.5" stroke-width="0.5"/>
<line x1="189.5" y1="399.5" x2="257" y2="475" stroke-width="0.5"/>
<line x1="189.5" y1="399.5" x2="275" y2="492.5" stroke-width="0.5"/>
<line x1="259" y1="423.5" x2="268" y2="346" stroke-width="0.5"/>
<line x1="259" y1="423.5" x2="295" y2="358.5" stroke-width="0.5"/>
<line x1="259" y1="423.5" x2="190" y2="296" stroke-width="0.5"/>
<line x1="259" y1="423.5" x2="337.5" y2="343.5" stroke-width="0.5"/>
<line x1="259" y1="423.5" x2="331.5" y2="379.5" stroke-width="0.5"/>
<line x1="259" y1="423.5" x2="171" y2="316" stroke-width="0.5"/>
<line x1="259" y1="423.5" x2="186.3" y2="375" stroke-width="0.5"/>
<line x1="259" y1="423.5" x2="322.5" y2="450" stroke-width="0.5"/>
<line x1="178.5" y1="425" x2="152" y2="370.5" stroke-width="0.5"/>
<line x1="178.5" y1="425" x2="268" y2="346" stroke-width="0.5"/>
<line x1="178.5" y1="425" x2="256" y2="300" stroke-width="0.5"/>
<line x1="178.5" y1="425" x2="337.5" y2="343.5" stroke-width="0.5"/>
<line x1="178.5" y1="425" x2="331.5" y2="379.5" stroke-width="0.5"/>
<line x1="178.5" y1="425" x2="186.3" y2="375" stroke-width="0.5"/>
<line x1="178.5" y1="425" x2="275" y2="492.5" stroke-width="0.5"/>
<line x1="178.5" y1="425" x2="322.5" y2="450" stroke-width="0.5"/>
<line x1="162" y1="387.5" x2="152" y2="370.5" stroke-width="0.5"/>
<line x1="162" y1="387.5" x2="295" y2="358.5" stroke-width="0.5"/>
<line x1="162" y1="387.5" x2="202" y2="463.5" stroke-width="0.5"/>
<line x1="162" y1="387.5" x2="225" y2="432.5" stroke-width="0.5"/>
<line x1="162" y1="387.5" x2="257" y2="475" stroke-width="0.5"/>
<line x1="162" y1="387.5" x2="238" y2="341.5" stroke-width="0.5"/>
<line x1="152" y1="370.5" x2="295" y2="358.5" stroke-width="0.5"/>
<line x1="152" y1="370.5" x2="202" y2="463.5" stroke-width="0.5"/>
<line x1="152" y1="370.5" x2="225" y2="432.5" stroke-width="0.5"/>
<line x1="152" y1="370.5" x2="206.5" y2="322" stroke-width="0.5"/>
<line x1="152" y1="370.5" x2="190" y2="296" stroke-width="0.5"/>
<line x1="152" y1="370.5" x2="256" y2="300" stroke-width="0.5"/>
<line x1="152" y1="370.5" x2="337.5" y2="343.5" stroke-width="0.5"/>
<line x1="152" y1="370.5" x2="331.5" y2="379.5" stroke-width="0.5"/>
<line x1="152" y1="370.5" x2="171" y2="316" stroke-width="0.5"/>
<line x1="152" y1="370.5" x2="238" y2="341.5" stroke-width="0.5"/>
<line x1="152" y1="370.5" x2="186.3" y2="375" stroke-width="0.5"/>
<line x1="152" y1="370.5" x2="275" y2="492.5" stroke-width="0.5"/>
<line x1="152" y1="370.5" x2="322.5" y2="450" stroke-width="0.5"/>
<line x1="201.5" y1="347.5" x2="295" y2="358.5" stroke-width="0.5"/>
<line x1="201.5" y1="347.5" x2="257" y2="475" stroke-width="0.5"/>
<line x1="201.5" y1="347.5" x2="206.5" y2="322" stroke-width="0.5"/>
<line x1="201.5" y1="347.5" x2="190" y2="296" stroke-width="0.5"/>
<line x1="201.5" y1="347.5" x2="256" y2="300" stroke-width="0.5"/>
<line x1="201.5" y1="347.5" x2="337.5" y2="343.5" stroke-width="0.5"/>
<line x1="201.5" y1="347.5" x2="275" y2="492.5" stroke-width="0.5"/>
<line x1="201.5" y1="347.5" x2="322.5" y2="450" stroke-width="0.5"/>
<line x1="268" y1="346" x2="295" y2="358.5" stroke-width="0.5"/>
<line x1="268" y1="346" x2="202" y2="463.5" stroke-width="0.5"/>
<line x1="268" y1="346" x2="257" y2="475" stroke-width="0.5"/>
<line x1="268" y1="346" x2="206.5" y2="322" stroke-width="0.5"/>
<line x1="268" y1="346" x2="331.5" y2="379.5" stroke-width="0.5"/>
<line x1="268" y1="346" x2="238" y2="341.5" stroke-width="0.5"/>
<line x1="295" y1="358.5" x2="225" y2="432.5" stroke-width="0.5"/>
<line x1="295" y1="358.5" x2="257" y2="475" stroke-width="0.5"/>
<line x1="295" y1="358.5" x2="206.5" y2="322" stroke-width="0.5"/>
<line x1="295" y1="358.5" x2="171" y2="316" stroke-width="0.5"/>
<line x1="295" y1="358.5" x2="186.3" y2="375" stroke-width="0.5"/>
<line x1="202" y1="463.5" x2="331.5" y2="379.5" stroke-width="0.5"/>
<line x1="202" y1="463.5" x2="238" y2="341.5" stroke-width="0.5"/>
<line x1="202" y1="463.5" x2="186.3" y2="375" stroke-width="0.5"/>
<line x1="202" y1="463.5" x2="275" y2="492.5" stroke-width="0.5"/>
<line x1="202" y1="463.5" x2="322.5" y2="450" stroke-width="0.5"/>
<line x1="225" y1="432.5" x2="206.5" y2="322" stroke-width="0.5"/>
<line x1="225" y1="432.5" x2="186.3" y2="375" stroke-width="0.5"/>
<line x1="225" y1="432.5" x2="275" y2="492.5" stroke-width="0.5"/>
<line x1="225" y1="432.5" x2="322.5" y2="450" stroke-width="0.5"/>
<line x1="257" y1="475" x2="206.5" y2="322" stroke-width="0.5"/>
<line x1="257" y1="475" x2="190" y2="296" stroke-width="0.5"/>
<line x1="206.5" y1="322" x2="337.5" y2="343.5" stroke-width="0.5"/>
<line x1="190" y1="296" x2="256" y2="300" stroke-width="0.5"/>
<line x1="190" y1="296" x2="331.5" y2="379.5" stroke-width="0.5"/>
<line x1="190" y1="296" x2="275" y2="492.5" stroke-width="0.5"/>
<line x1="190" y1="296" x2="322.5" y2="450" stroke-width="0.5"/>
<line x1="256" y1="300" x2="171" y2="316" stroke-width="0.5"/>
<line x1="256" y1="300" x2="238" y2="341.5" stroke-width="0.5"/>
<line x1="256" y1="300" x2="186.3" y2="375" stroke-width="0.5"/>
<line x1="337.5" y1="343.5" x2="171" y2="316" stroke-width="0.5"/>
<line x1="337.5" y1="343.5" x2="322.5" y2="450" stroke-width="0.5"/>
<line x1="331.5" y1="379.5" x2="238" y2="341.5" stroke-width="0.5"/>
<line x1="331.5" y1="379.5" x2="186.3" y2="375" stroke-width="0.5"/>
<line x1="238" y1="341.5" x2="275" y2="492.5" stroke-width="0.5"/>
<line x1="238" y1="341.5" x2="322.5" y2="450" stroke-width="0.5"/>
<line x1="186.3" y1="375" x2="275" y2="492.5" stroke-width="0.5"/>
<line x1="186.3" y1="375" x2="322.5" y2="450" stroke-width="0.5"/>
<line x1="238.5" y1="261" x2="241" y2="357.5" stroke-width="0.8"/>
<line x1="266" y1="267.5" x2="268" y2="346" stroke-width="0.8"/>
</g>
<g stroke="#e8b8cc" stroke-linecap="round" opacity="0.7">
<line x1="206.5" y1="322" x2="246" y2="381.5" stroke-width="1.2"/>
<line x1="190" y1="296" x2="284.5" y2="385" stroke-width="0.7"/>
<line x1="294" y1="406.5" x2="171" y2="316" stroke-width="0.6"/>
<line x1="221" y1="396" x2="295" y2="358.5" stroke-width="0.6"/>
<line x1="189.5" y1="399.5" x2="331.5" y2="379.5" stroke-width="0.6"/>
<line x1="162" y1="387.5" x2="284.5" y2="385" stroke-width="0.6"/>
</g>
<circle cx="218" cy="234" r="7.199999999999999" fill="#8dbd3f" stroke="#3c5aa0" stroke-width="1.9"/><text class="nl" x="209" y="237.5" text-anchor="end">BATF3</text>
<circle cx="161.5" cy="260" r="8.1" fill="#d6122a"/><text class="nl" x="163.0" y="251.2" text-anchor="middle">CREB3L2</text>
<circle cx="238.5" cy="261" r="8.1" fill="#8dbd3f"/><text class="nl" x="238.5" y="252.2" text-anchor="middle">TCF4</text>
<circle cx="132" cy="291" r="7.199999999999999" fill="#8dbd3f" stroke="#bc1a28" stroke-width="1.8"/><text class="nl" x="132" y="282.2" text-anchor="middle">ATF5</text>
<circle cx="190" cy="296" r="8.1" fill="#d6122a"/><text class="nl" x="190" y="287.2" text-anchor="middle">ATF4</text>
<circle cx="216.5" cy="292.5" r="8.1" fill="#4060b0"/><text class="nl" x="216.5" y="283.7" text-anchor="middle">DACH1</text>
<circle cx="256" cy="300" r="8.1" fill="#4060b0"/><text class="nl" x="256" y="291.2" text-anchor="middle">KLF4</text>
<circle cx="171" cy="316" r="7.199999999999999" fill="#8dbd3f" stroke="#d6122a" stroke-width="1.8"/><circle cx="171" cy="316" r="3.8" fill="#4060b0"/><text class="nl" x="162.5" y="319.5" text-anchor="end">CEBPG</text>
<circle cx="206.5" cy="322" r="7.199999999999999" fill="#8dbd3f" stroke="#d6122a" stroke-width="1.8"/><circle cx="206.5" cy="322" r="3.8" fill="#4060b0"/><text class="nl" x="206.5" y="313.2" text-anchor="middle">DDIT3</text>
<circle cx="135" cy="345" r="7.199999999999999" fill="#8dbd3f" stroke="#3c5aa0" stroke-width="1.9"/><text class="nl" x="135" y="336.2" text-anchor="middle">CREB3L4</text>
<circle cx="201.5" cy="347.5" r="7.199999999999999" fill="#8dbd3f" stroke="#3c5aa0" stroke-width="1.9"/><text class="nl" x="195.5" y="341.5" text-anchor="end">FOXO3</text>
<circle cx="238" cy="341.5" r="3.1" fill="#8dbd3f" stroke="#bc1a28" stroke-width="1"/><text class="nl" x="238" y="336.0" text-anchor="middle">MITF</text>
<circle cx="70" cy="362.5" r="8.1" fill="#d6122a"/><text class="nl" x="67" y="353.7" text-anchor="middle">MEF2A</text>
<circle cx="104" cy="371.5" r="7.199999999999999" fill="#8dbd3f" stroke="#d6122a" stroke-width="1.8"/><circle cx="104" cy="371.5" r="3.8" fill="#4060b0"/><text class="nl" x="104" y="385.1" text-anchor="middle">MEF2D</text>
<circle cx="152" cy="370.5" r="7.199999999999999" fill="#8dbd3f" stroke="#3c5aa0" stroke-width="1.9"/><text class="nl" x="152" y="361.7" text-anchor="middle">NFIL3</text>
<circle cx="186.3" cy="375" r="4" fill="#8dbd3f"/><text class="nl" x="186.3" y="369" text-anchor="middle">CREM</text>
<circle cx="241" cy="357.5" r="7.199999999999999" fill="#8dbd3f" stroke="#bc1a28" stroke-width="1.8"/><text class="nl" x="249" y="371.1" text-anchor="middle">PPARG</text>
<circle cx="162" cy="387.5" r="7.199999999999999" fill="#8dbd3f" stroke="#bc1a28" stroke-width="1.8"/><text class="nl" x="153" y="391.0" text-anchor="end">FOSB</text>
<circle cx="246" cy="381.5" r="7.199999999999999" fill="#8dbd3f" stroke="#d6122a" stroke-width="1.8"/><circle cx="246" cy="381.5" r="3.8" fill="#4060b0"/><text class="nl" x="250.5" y="395.3" text-anchor="middle">CEBPB</text>
<circle cx="268" cy="346" r="8.1" fill="#d6122a"/><text class="nl" x="268" y="337.2" text-anchor="middle">FOXO1</text>
<circle cx="306" cy="323" r="7.199999999999999" fill="#8dbd3f" stroke="#3c5aa0" stroke-width="1.9"/><text class="nl" x="306" y="314.2" text-anchor="middle">SATB1</text>
<circle cx="349" cy="311" r="7.199999999999999" fill="#8dbd3f" stroke="#3c5aa0" stroke-width="1.9"/><text class="nl" x="350" y="302.2" text-anchor="middle">NFKB2</text>
<circle cx="337.5" cy="343.5" r="7.199999999999999" fill="#8dbd3f" stroke="#bc1a28" stroke-width="1.8"/><text class="nl" x="337.5" y="334.7" text-anchor="middle">IRF1</text>
<circle cx="377.5" cy="335.5" r="8.1" fill="#4060b0"/><text class="nl" x="377.5" y="326.7" text-anchor="middle">MXD3</text>
<circle cx="295" cy="358.5" r="7.199999999999999" fill="#8dbd3f" stroke="#bc1a28" stroke-width="1.8"/><text class="nl" x="294" y="349.7" text-anchor="middle">TFEC</text>
<circle cx="284.5" cy="385" r="7.199999999999999" fill="#8a5aa0" stroke="#d6122a" stroke-width="1.8"/><circle cx="284.5" cy="385" r="5.5" fill="#4060b0"/><text class="nl" x="284.5" y="376.2" text-anchor="middle">NFKB1</text>
<circle cx="331.5" cy="379.5" r="7.199999999999999" fill="#8dbd3f" stroke="#bc1a28" stroke-width="1.8"/><text class="nl" x="331.5" y="370.7" text-anchor="middle">E2F3</text>
<circle cx="367" cy="384.5" r="8.1" fill="#d6122a"/><text class="nl" x="367" y="375.7" text-anchor="middle">MXD1</text>
<circle cx="189.5" cy="399.5" r="7.199999999999999" fill="#8a5aa0" stroke="#d6122a" stroke-width="1.8"/><circle cx="189.5" cy="399.5" r="5.5" fill="#4060b0"/><text class="nl" x="189.5" y="413.1" text-anchor="middle">HIF1A</text>
<circle cx="221" cy="396" r="7.199999999999999" fill="#8dbd3f" stroke="#bc1a28" stroke-width="1.8"/><text class="nl" x="222" y="409.6" text-anchor="middle">CREB1</text>
<circle cx="294" cy="406.5" r="8.1" fill="#d6122a"/><text class="nl" x="303" y="410.0" text-anchor="start">SPI1</text>
<circle cx="129" cy="405" r="7.199999999999999" fill="#8dbd3f" stroke="#d6122a" stroke-width="1.8"/><circle cx="129" cy="405" r="3.8" fill="#4060b0"/><text class="nl" x="120.5" y="408.5" text-anchor="end">BHLH40</text>
<circle cx="178.5" cy="425" r="7.199999999999999" fill="#8dbd3f" stroke="#d6122a" stroke-width="1.8"/><circle cx="178.5" cy="425" r="3.8" fill="#4060b0"/><text class="nl" x="179.5" y="438.6" text-anchor="middle">FOSL2</text>
<circle cx="225" cy="432.5" r="8.1" fill="#4060b0"/><text class="nl" x="225" y="446.1" text-anchor="middle">ESRRA</text>
<circle cx="259" cy="423.5" r="7.199999999999999" fill="#8a5aa0" stroke="#d6122a" stroke-width="1.8"/><circle cx="259" cy="423.5" r="5.5" fill="#4060b0"/><text class="nl" x="260" y="437.1" text-anchor="middle">NR4A2</text>
<circle cx="297.5" cy="429.5" r="7.199999999999999" fill="#8dbd3f" stroke="#3c5aa0" stroke-width="1.9"/><text class="nl" x="297.5" y="443.1" text-anchor="middle">PRDM2</text>
<circle cx="350" cy="438.5" r="7.199999999999999" fill="#8dbd3f" stroke="#d6122a" stroke-width="1.8"/><circle cx="350" cy="438.5" r="3.8" fill="#4060b0"/><text class="nl" x="352" y="429.7" text-anchor="middle">POU2F2</text>
<circle cx="322.5" cy="450" r="7.199999999999999" fill="#8dbd3f" stroke="#d6122a" stroke-width="1.8"/><circle cx="322.5" cy="450" r="3.8" fill="#4060b0"/><text class="nl" x="324.5" y="463.6" text-anchor="middle">ETS2</text>
<circle cx="145" cy="439" r="2.7" fill="#8a93b5" stroke="#d6122a" stroke-width="1"/><text class="nl" x="146" y="434" text-anchor="middle">ARNTL</text>
<circle cx="157" cy="465.5" r="7.199999999999999" fill="#8dbd3f" stroke="#bc1a28" stroke-width="1.8"/><text class="nl" x="157" y="456.7" text-anchor="middle">CREBL2</text>
<circle cx="202" cy="463.5" r="8.1" fill="#d6122a"/><text class="nl" x="202" y="453.5" text-anchor="middle">RARA</text>
<circle cx="257" cy="475" r="8.1" fill="#d6122a"/><text class="nl" x="255.5" y="466.8" text-anchor="middle">RUNX1</text>
<circle cx="331.5" cy="483" r="8.1" fill="#8dbd3f"/><text class="nl" x="331.5" y="474.2" text-anchor="middle">NFAT5</text>
<circle cx="275" cy="492.5" r="7.199999999999999" fill="#8dbd3f" stroke="#d6122a" stroke-width="1.8"/><circle cx="275" cy="492.5" r="3.8" fill="#4060b0"/><text class="nl" x="282" y="482.5" text-anchor="middle">PRDM1</text>
<circle cx="75" cy="424" r="7.199999999999999" fill="#8dbd3f" stroke="#d6122a" stroke-width="1.8"/><circle cx="75" cy="424" r="3.8" fill="#4060b0"/><text class="nl" x="75" y="415.2" text-anchor="middle">ARNTL2</text>
<circle cx="104" cy="446.5" r="7.199999999999999" fill="#8dbd3f" stroke="#3c5aa0" stroke-width="1.9"/><text class="nl" x="104" y="460.1" text-anchor="middle">EPAS1</text>
<circle cx="137.5" cy="483.5" r="8.1" fill="#8dbd3f"/><text class="nl" x="137.5" y="497.1" text-anchor="middle">KLF10</text>
<circle cx="170" cy="483.5" r="8.1" fill="#8dbd3f"/><text class="nl" x="170" y="497.1" text-anchor="middle">KLF7</text>
<circle cx="198.5" cy="485" r="8.1" fill="#4060b0"/><text class="nl" x="198.5" y="500" text-anchor="middle">ETV6</text>
<circle cx="172.5" cy="523.5" r="7.199999999999999" fill="#8dbd3f" stroke="#3c5aa0" stroke-width="1.9"/><text class="nl" x="162.5" y="524.5" text-anchor="end">ZNF703</text>
<circle cx="214" cy="520" r="7.199999999999999" fill="#8dbd3f" stroke="#3c5aa0" stroke-width="1.9"/><text class="nl" x="214" y="533.6" text-anchor="middle">IRF5</text>
<circle cx="242.5" cy="543.5" r="3.8" fill="#d6122a"/><text class="nl" x="240.5" y="553.8" text-anchor="middle">TRPS1</text>
<circle cx="398.5" cy="417.5" r="3.6" fill="#d6122a"/><text class="nl" x="397.5" y="428.5" text-anchor="middle">MXI1</text>
<circle cx="388.5" cy="451" r="7.199999999999999" fill="#8dbd3f" stroke="#3c5aa0" stroke-width="1.9"/><text class="nl" x="390.5" y="442.2" text-anchor="middle">ZNF593</text>
<circle cx="376" cy="481.5" r="7.199999999999999" fill="#8a5aa0" stroke="#d6122a" stroke-width="1.8"/><circle cx="376" cy="481.5" r="5.5" fill="#4060b0"/><text class="nl" x="377" y="495.1" text-anchor="middle">ZFP36L1</text>
<circle cx="324.5" cy="501.5" r="8.1" fill="#d6122a"/><text class="nl" x="316.5" y="505.0" text-anchor="end">IKZF1</text>
<circle cx="346.5" cy="514" r="7.199999999999999" fill="#8dbd3f" stroke="#d6122a" stroke-width="1.8"/><circle cx="346.5" cy="514" r="3.8" fill="#4060b0"/><text class="nl" x="354.5" y="517.5" text-anchor="start">IKZF5</text>
<circle cx="308.5" cy="523.5" r="7.199999999999999" fill="#8dbd3f" stroke="#bc1a28" stroke-width="1.8"/><text class="nl" x="308.5" y="537.1" text-anchor="middle">BACH1</text>
<circle cx="259.5" cy="522.5" r="3.6" fill="#d6122a"/><text class="nl" x="264.0" y="526.0" text-anchor="start">ZNF385A</text>
<circle cx="282.5" cy="541" r="2.9" fill="#7d62b0" stroke="#b03070" stroke-width="1"/><text class="nl" x="284.0" y="551.5" text-anchor="middle">ELF2</text>
<circle cx="286.5" cy="232.5" r="8.1" fill="#d6122a"/><text class="nl" x="286.5" y="223.7" text-anchor="middle">CAMTA1</text>
<circle cx="266" cy="267.5" r="8.1" fill="#4060b0"/><text class="nl" x="271" y="258.7" text-anchor="middle">TCF7L2</text>
<circle cx="311" cy="282.5" r="8.1" fill="#d6122a"/><text class="nl" x="311" y="273.7" text-anchor="middle">CUX1</text>
<circle cx="353.5" cy="273.5" r="7.199999999999999" fill="#8dbd3f" stroke="#d6122a" stroke-width="1.8"/><circle cx="353.5" cy="273.5" r="3.8" fill="#4060b0"/><text class="nl" x="354.5" y="264.7" text-anchor="middle">HIVEP1</text>
<circle cx="401.5" cy="293.5" r="7.199999999999999" fill="#8dbd3f" stroke="#3c5aa0" stroke-width="1.9"/><text class="nl" x="401.5" y="284.7" text-anchor="middle">ZEB1</text>
<circle cx="436" cy="290" r="7.199999999999999" fill="#8dbd3f" stroke="#3c5aa0" stroke-width="1.9"/><text class="nl" x="437" y="281.2" text-anchor="middle">DRAP1</text>
<circle cx="410" cy="337.5" r="8.1" fill="#d6122a"/><text class="nl" x="411" y="328.7" text-anchor="middle">MYCL1</text>
<circle cx="406.5" cy="370" r="8.1" fill="#4060b0"/><text class="nl" x="406.5" y="361.2" text-anchor="middle">MLX</text>
<rect x="19.6" y="213.3" width="79.8" height="51.8" fill="#fff" stroke="#111" stroke-width="1.4"/>
<text x="26" y="226.5" font-size="10" stroke="#000" stroke-width="0.35">Top50 TF in</text>
<circle cx="29.6" cy="235.5" r="3.2" fill="#d6122a"/><text x="37" y="239.0" font-size="10" stroke="#000" stroke-width="0.35">classical</text>
<circle cx="29.6" cy="247.0" r="3.2" fill="#8dbd3f"/><text x="37" y="250.5" font-size="10" stroke="#000" stroke-width="0.35">intermediate</text>
<circle cx="29.6" cy="258.5" r="3.2" fill="#4060b0"/><text x="37" y="262.0" font-size="10" stroke="#000" stroke-width="0.35">nonclassical</text>
<text x="-0.3" y="590.8" font-size="16.6" font-weight="bold" stroke="#000" stroke-width="0.5" textLength="12" lengthAdjust="spacingAndGlyphs">C</text>
<text x="21.2" y="653.8" font-size="12.4" stroke="#000" stroke-width="0.25" textLength="81" lengthAdjust="spacingAndGlyphs"><tspan font-style="italic">de novo</tspan> motif</text>
<text transform="translate(138.2,655) rotate(-90)" font-size="13.4" fill="#c4122e" stroke="#c4122e" stroke-width="0.35" textLength="80" lengthAdjust="spacingAndGlyphs">H3K4me1 (d)</text>
<text transform="translate(160.4,655) rotate(-90)" font-size="13.4" fill="#c4122e" stroke="#c4122e" stroke-width="0.35" textLength="56" lengthAdjust="spacingAndGlyphs">H3K27ac</text>
<text transform="translate(182.7,655) rotate(-90)" font-size="13.4" fill="#c4122e" stroke="#c4122e" stroke-width="0.35" textLength="37.5" lengthAdjust="spacingAndGlyphs">CAGE</text>
<text transform="translate(204.9,655) rotate(-90)" font-size="13.4" fill="#8cb63c" stroke="#8cb63c" stroke-width="0.35" textLength="37.5" lengthAdjust="spacingAndGlyphs">CAGE</text>
<text transform="translate(227.1,655) rotate(-90)" font-size="13.4" fill="#2f4796" stroke="#2f4796" stroke-width="0.35" textLength="37.5" lengthAdjust="spacingAndGlyphs">CAGE</text>
<text transform="translate(249.3,655) rotate(-90)" font-size="13.4" fill="#2f4796" stroke="#2f4796" stroke-width="0.35" textLength="56" lengthAdjust="spacingAndGlyphs">H3K27ac</text>
<text transform="translate(271.5,655) rotate(-90)" font-size="13.4" fill="#2f4796" stroke="#2f4796" stroke-width="0.35" textLength="75" lengthAdjust="spacingAndGlyphs">H3K4me1(d)</text>
<text transform="translate(293.5,655) rotate(-90)" font-size="12" stroke="#000" stroke-width="0.4" textLength="47.5" lengthAdjust="spacingAndGlyphs">matching</text>
<text transform="translate(307.5,655) rotate(-90)" font-size="12" stroke="#000" stroke-width="0.4" textLength="64" lengthAdjust="spacingAndGlyphs">motif family</text>
<rect x="255.62" y="660.50" width="22.32" height="15.85" fill="rgb(230,142,148)"/>
<text class="hv" x="133.4" y="671.7">1.1</text>
<text class="hv" x="155.6" y="671.7">1.0</text>
<text class="hv" x="177.8" y="671.7">0.9</text>
<text class="hv" x="200.1" y="671.7">1.3</text>
<text class="hv" x="222.3" y="671.7">1.2</text>
<text class="hv" x="244.5" y="671.7">1.2</text>
<text class="hv" x="266.7" y="671.7">2.2</text>
<text x="283.5" y="672.1" font-size="13.2" stroke="#000" stroke-width="0.15" textLength="138.0" lengthAdjust="spacingAndGlyphs">NR <tspan font-size="10.5" stroke-width="0.25">(PB0049.1_Nr2f2_1;0.86)</tspan></text>
<rect x="144.52" y="676.25" width="22.32" height="15.85" fill="rgb(214,75,83)"/>
<rect x="166.74" y="676.25" width="22.32" height="15.85" fill="rgb(204,30,40)"/>
<rect x="188.96" y="676.25" width="22.32" height="15.85" fill="rgb(204,30,40)"/>
<rect x="211.18" y="676.25" width="22.32" height="15.85" fill="rgb(204,30,40)"/>
<rect x="233.40" y="676.25" width="22.32" height="15.85" fill="rgb(209,52,62)"/>
<rect x="255.62" y="676.25" width="22.32" height="15.85" fill="rgb(209,52,62)"/>
<text class="hv" x="133.4" y="687.5">1.1</text>
<text class="hv" x="155.6" y="687.5">1.7</text>
<text class="hv" x="177.8" y="687.5">2.8</text>
<text class="hv" x="200.1" y="687.5">3.2</text>
<text class="hv" x="222.3" y="687.5">3.2</text>
<text class="hv" x="244.5" y="687.5">2.5</text>
<text class="hv" x="266.7" y="687.5">1.9</text>
<text x="283.5" y="687.9" font-size="13.2" stroke="#000" stroke-width="0.15" textLength="143.0" lengthAdjust="spacingAndGlyphs">ETS <tspan font-size="10.5" stroke-width="0.25">(PB0058.1_Sfpi1_1;0.94)</tspan></text>
<rect x="122.30" y="692.00" width="22.32" height="15.85" fill="rgb(252,240,241)"/>
<rect x="144.52" y="692.00" width="22.32" height="15.85" fill="rgb(235,165,169)"/>
<rect x="166.74" y="692.00" width="22.32" height="15.85" fill="rgb(230,142,148)"/>
<rect x="188.96" y="692.00" width="22.32" height="15.85" fill="rgb(235,165,169)"/>
<rect x="211.18" y="692.00" width="22.32" height="15.85" fill="rgb(235,165,169)"/>
<rect x="233.40" y="692.00" width="22.32" height="15.85" fill="rgb(214,75,83)"/>
<rect x="255.62" y="692.00" width="22.32" height="15.85" fill="rgb(252,240,241)"/>
<text class="hv" x="133.4" y="703.2">1.2</text>
<text class="hv" x="155.6" y="703.2">1.6</text>
<text class="hv" x="177.8" y="703.2">1.9</text>
<text class="hv" x="200.1" y="703.2">1.9</text>
<text class="hv" x="222.3" y="703.2">2.0</text>
<text class="hv" x="244.5" y="703.2">1.8</text>
<text class="hv" x="266.7" y="703.2">1.3</text>
<text x="283.5" y="703.6" font-size="13.2" stroke="#000" stroke-width="0.15" textLength="212.5" lengthAdjust="spacingAndGlyphs">ETS:IRF <tspan font-size="10.5" stroke-width="0.25">(Bcell-PU.1-ChIP-Seq/Homer;0.88)</tspan></text>
<rect x="166.74" y="707.75" width="22.32" height="15.85" fill="rgb(252,240,241)"/>
<rect x="188.96" y="707.75" width="22.32" height="15.85" fill="rgb(247,219,221)"/>
<rect x="211.18" y="707.75" width="22.32" height="15.85" fill="rgb(224,120,126)"/>
<rect x="233.40" y="707.75" width="22.32" height="15.85" fill="rgb(214,75,83)"/>
<rect x="255.62" y="707.75" width="22.32" height="15.85" fill="rgb(252,240,241)"/>
<text class="hv" x="133.4" y="719.0">1.6</text>
<text class="hv" x="155.6" y="719.0">1.0</text>
<text class="hv" x="177.8" y="719.0">1.9</text>
<text class="hv" x="200.1" y="719.0">3.2</text>
<text class="hv" x="222.3" y="719.0">4.6</text>
<text class="hv" x="244.5" y="719.0">3.5</text>
<text class="hv" x="266.7" y="719.0">1.6</text>
<text x="283.5" y="719.4" font-size="13.2" stroke="#000" stroke-width="0.15" textLength="120.0" lengthAdjust="spacingAndGlyphs">IRF <tspan font-size="10.5" stroke-width="0.25">(IRF1_si_HM09;096)</tspan></text>
<rect x="188.96" y="723.50" width="22.32" height="15.85" fill="rgb(247,219,221)"/>
<rect x="211.18" y="723.50" width="22.32" height="15.85" fill="rgb(247,219,221)"/>
<rect x="233.40" y="723.50" width="22.32" height="15.85" fill="rgb(230,142,148)"/>
<rect x="255.62" y="723.50" width="22.32" height="15.85" fill="rgb(252,240,241)"/>
<text class="hv" x="133.4" y="734.7">1.1</text>
<text class="hv" x="155.6" y="734.7">1.2</text>
<text class="hv" x="177.8" y="734.7">1.5</text>
<text class="hv" x="200.1" y="734.7">2.1</text>
<text class="hv" x="222.3" y="734.7">1.7</text>
<text class="hv" x="244.5" y="734.7">2.0</text>
<text class="hv" x="266.7" y="734.7">1.3</text>
<text x="283.5" y="735.1" font-size="13.2" stroke="#000" stroke-width="0.15" textLength="217.5" lengthAdjust="spacingAndGlyphs">KLF <tspan font-size="10.5" stroke-width="0.25">(Klf4(Zf)/mES-Klf4-ChIP-Seq/Homer;0.88)</tspan></text>
<rect x="211.18" y="739.25" width="22.32" height="15.85" fill="rgb(247,219,221)"/>
<rect x="233.40" y="739.25" width="22.32" height="15.85" fill="rgb(252,240,241)"/>
<text class="hv" x="133.4" y="750.5">0.0</text>
<text class="hv" x="155.6" y="750.5">0.0</text>
<text class="hv" x="177.8" y="750.5">0.0</text>
<text class="hv" x="200.1" y="750.5">0.0</text>
<text class="hv" x="222.3" y="750.5">33</text>
<text class="hv" x="244.5" y="750.5">6.0</text>
<text class="hv" x="266.7" y="750.5">0.0</text>
<text x="283.5" y="750.9" font-size="13.2" stroke="#000" stroke-width="0.15" textLength="126.5" lengthAdjust="spacingAndGlyphs">E2F <tspan font-size="10.5" stroke-width="0.25">(E2F7_f1_HM09;0.82)</tspan></text>
<rect x="166.74" y="755.00" width="22.32" height="15.85" fill="rgb(247,219,221)"/>
<rect x="188.96" y="755.00" width="22.32" height="15.85" fill="rgb(252,240,241)"/>
<rect x="211.18" y="755.00" width="22.32" height="15.85" fill="rgb(240,188,190)"/>
<text class="hv" x="133.4" y="766.2">0.9</text>
<text class="hv" x="155.6" y="766.2">0.8</text>
<text class="hv" x="177.8" y="766.2">1.6</text>
<text class="hv" x="200.1" y="766.2">1.2</text>
<text class="hv" x="222.3" y="766.2">2.1</text>
<text class="hv" x="244.5" y="766.2">0.9</text>
<text class="hv" x="266.7" y="766.2">0.4</text>
<text x="283.5" y="766.6" font-size="13.2" stroke="#000" stroke-width="0.15" textLength="205.5" lengthAdjust="spacingAndGlyphs">NRF1 <tspan font-size="10.5" stroke-width="0.25">(MCF7-NRF1-ChIP-Seq/Homer;0.95)</tspan></text>
<rect x="166.74" y="770.75" width="22.32" height="15.85" fill="rgb(224,120,126)"/>
<rect x="188.96" y="770.75" width="22.32" height="15.85" fill="rgb(240,188,190)"/>
<rect x="211.18" y="770.75" width="22.32" height="15.85" fill="rgb(209,52,62)"/>
<rect x="255.62" y="770.75" width="22.32" height="15.85" fill="rgb(252,240,241)"/>
<text class="hv" x="133.4" y="782.0">0.9</text>
<text class="hv" x="155.6" y="782.0">0.9</text>
<text class="hv" x="177.8" y="782.0">1.8</text>
<text class="hv" x="200.1" y="782.0">1.7</text>
<text class="hv" x="222.3" y="782.0">2.4</text>
<text class="hv" x="244.5" y="782.0">1.1</text>
<text class="hv" x="266.7" y="782.0">1.2</text>
<text x="283.5" y="782.4" font-size="13.2" stroke="#000" stroke-width="0.15" textLength="134.0" lengthAdjust="spacingAndGlyphs">NFY <tspan font-size="10.5" stroke-width="0.25">(NFYA_f1_HM09;0.94)</tspan></text>
<rect x="166.74" y="786.50" width="22.32" height="15.85" fill="rgb(252,240,241)"/>
<rect x="188.96" y="786.50" width="22.32" height="15.85" fill="rgb(252,240,241)"/>
<rect x="211.18" y="786.50" width="22.32" height="15.85" fill="rgb(235,165,169)"/>
<text class="hv" x="133.4" y="797.7">1.2</text>
<text class="hv" x="155.6" y="797.7">1.3</text>
<text class="hv" x="177.8" y="797.7">3.1</text>
<text class="hv" x="200.1" y="797.7">2.2</text>
<text class="hv" x="222.3" y="797.7">5.5</text>
<text class="hv" x="244.5" y="797.7">1.4</text>
<text class="hv" x="266.7" y="797.7">1.5</text>
<text x="283.5" y="798.1" font-size="13.2" stroke="#000" stroke-width="0.15" textLength="233.0" lengthAdjust="spacingAndGlyphs">OCT <tspan font-size="10.5" stroke-width="0.25">( POU2F1..3.p2.SwissRegulon.nucfreq;0.92)</tspan></text>
<rect x="122.30" y="802.25" width="22.32" height="15.85" fill="rgb(247,219,221)"/>
<rect x="144.52" y="802.25" width="22.32" height="15.85" fill="rgb(224,120,126)"/>
<rect x="166.74" y="802.25" width="22.32" height="15.85" fill="rgb(209,52,62)"/>
<rect x="188.96" y="802.25" width="22.32" height="15.85" fill="rgb(214,75,83)"/>
<rect x="211.18" y="802.25" width="22.32" height="15.85" fill="rgb(235,165,169)"/>
<rect x="233.40" y="802.25" width="22.32" height="15.85" fill="rgb(240,188,190)"/>
<text class="hv" x="133.4" y="813.5">1.2</text>
<text class="hv" x="155.6" y="813.5">1.4</text>
<text class="hv" x="177.8" y="813.5">2.2</text>
<text class="hv" x="200.1" y="813.5">1.8</text>
<text class="hv" x="222.3" y="813.5">1.5</text>
<text class="hv" x="244.5" y="813.5">1.3</text>
<text class="hv" x="266.7" y="813.5">1.1</text>
<text x="283.5" y="813.9" font-size="13.2" stroke="#000" stroke-width="0.15" textLength="236.5" lengthAdjust="spacingAndGlyphs">CEBP <tspan font-size="10.5" stroke-width="0.25">(MF0006.1_bZIP_cEBP-like_subclass;0.85)</tspan></text>
<rect x="166.74" y="818.00" width="22.32" height="15.85" fill="rgb(209,52,62)"/>
<rect x="188.96" y="818.00" width="22.32" height="15.85" fill="rgb(235,165,169)"/>
<rect x="211.18" y="818.00" width="22.32" height="15.85" fill="rgb(209,52,62)"/>
<rect x="233.40" y="818.00" width="22.32" height="15.85" fill="rgb(252,240,241)"/>
<text class="hv" x="133.4" y="829.2">1.0</text>
<text class="hv" x="155.6" y="829.2">1.1</text>
<text class="hv" x="177.8" y="829.2">1.6</text>
<text class="hv" x="200.1" y="829.2">1.5</text>
<text class="hv" x="222.3" y="829.2">1.5</text>
<text class="hv" x="244.5" y="829.2">1.1</text>
<text class="hv" x="266.7" y="829.2">1.1</text>
<text x="283.5" y="829.6" font-size="13.2" stroke="#000" stroke-width="0.15" textLength="125.0" lengthAdjust="spacingAndGlyphs">SP1 <tspan font-size="10.5" stroke-width="0.25">(SP1_f1_HM09;0.97)</tspan></text>
<rect x="166.74" y="833.75" width="22.32" height="15.85" fill="rgb(209,52,62)"/>
<rect x="188.96" y="833.75" width="22.32" height="15.85" fill="rgb(235,165,169)"/>
<rect x="211.18" y="833.75" width="22.32" height="15.85" fill="rgb(224,120,126)"/>
<rect x="233.40" y="833.75" width="22.32" height="15.85" fill="rgb(247,219,221)"/>
<text class="hv" x="133.4" y="845.0">0.8</text>
<text class="hv" x="155.6" y="845.0">1.2</text>
<text class="hv" x="177.8" y="845.0">2.2</text>
<text class="hv" x="200.1" y="845.0">1.8</text>
<text class="hv" x="222.3" y="845.0">2.0</text>
<text class="hv" x="244.5" y="845.0">1.4</text>
<text class="hv" x="266.7" y="845.0">1.0</text>
<text x="283.5" y="845.4" font-size="13.2" stroke="#000" stroke-width="0.15" textLength="165.5" lengthAdjust="spacingAndGlyphs">GC-box <tspan font-size="10.5" stroke-width="0.25">(POL003.1_GC-box;0.86)</tspan></text>
<rect x="122.30" y="849.50" width="22.32" height="15.85" fill="rgb(230,142,148)"/>
<rect x="144.52" y="849.50" width="22.32" height="15.85" fill="rgb(204,30,40)"/>
<rect x="166.74" y="849.50" width="22.32" height="15.85" fill="rgb(204,30,40)"/>
<rect x="188.96" y="849.50" width="22.32" height="15.85" fill="rgb(204,30,40)"/>
<rect x="233.40" y="849.50" width="22.32" height="15.85" fill="rgb(252,240,241)"/>
<text class="hv" x="133.4" y="860.7">2.0</text>
<text class="hv" x="155.6" y="860.7">3.3</text>
<text class="hv" x="177.8" y="860.7">3.3</text>
<text class="hv" x="200.1" y="860.7">3.9</text>
<text class="hv" x="222.3" y="860.7">1.2</text>
<text class="hv" x="244.5" y="860.7">1.4</text>
<text class="hv" x="266.7" y="860.7">1.2</text>
<text x="283.5" y="861.1" font-size="13.2" stroke="#000" stroke-width="0.15" textLength="125.0" lengthAdjust="spacingAndGlyphs">AP1 <tspan font-size="10.5" stroke-width="0.25">(JUN_f1_HM09;0.96)</tspan></text>
<rect x="188.96" y="865.25" width="22.32" height="15.85" fill="rgb(224,120,126)"/>
<text class="hv" x="133.4" y="876.5">0.7</text>
<text class="hv" x="155.6" y="876.5">1.2</text>
<text class="hv" x="177.8" y="876.5">1.2</text>
<text class="hv" x="200.1" y="876.5">2.7</text>
<text class="hv" x="222.3" y="876.5">1.1</text>
<text class="hv" x="244.5" y="876.5">1.4</text>
<text class="hv" x="266.7" y="876.5">1.2</text>
<text x="299" y="875.9" font-size="13" font-weight="bold">-</text>
<rect x="144.52" y="881.00" width="22.32" height="15.85" fill="rgb(252,240,241)"/>
<rect x="166.74" y="881.00" width="22.32" height="15.85" fill="rgb(247,219,221)"/>
<rect x="188.96" y="881.00" width="22.32" height="15.85" fill="rgb(204,30,40)"/>
<rect x="211.18" y="881.00" width="22.32" height="15.85" fill="rgb(252,240,241)"/>
<rect x="233.40" y="881.00" width="22.32" height="15.85" fill="rgb(252,240,241)"/>
<rect x="255.62" y="881.00" width="22.32" height="15.85" fill="rgb(252,240,241)"/>
<text class="hv" x="133.4" y="892.2">1.1</text>
<text class="hv" x="155.6" y="892.2">1.4</text>
<text class="hv" x="177.8" y="892.2">1.6</text>
<text class="hv" x="200.1" y="892.2">4.2</text>
<text class="hv" x="222.3" y="892.2">1.2</text>
<text class="hv" x="244.5" y="892.2">1.3</text>
<text class="hv" x="266.7" y="892.2">1.2</text>
<text x="283.5" y="892.6" font-size="13.2" stroke="#000" stroke-width="0.15" textLength="212.5" lengthAdjust="spacingAndGlyphs">NFκB <tspan font-size="10.5" stroke-width="0.25">(GM12787-p65-ChIP-Seq/Homer;0.98)</tspan></text>
<rect x="188.96" y="896.75" width="22.32" height="15.85" fill="rgb(214,75,83)"/>
<rect x="211.18" y="896.75" width="22.32" height="15.85" fill="rgb(252,240,241)"/>
<text class="hv" x="133.4" y="908.0">1.4</text>
<text class="hv" x="155.6" y="908.0">1.4</text>
<text class="hv" x="177.8" y="908.0">1.3</text>
<text class="hv" x="200.1" y="908.0">5.6</text>
<text class="hv" x="222.3" y="908.0">2.5</text>
<text class="hv" x="244.5" y="908.0">1.6</text>
<text class="hv" x="266.7" y="908.0">1.7</text>
<text x="283.5" y="908.4" font-size="13.2" stroke="#000" stroke-width="0.15" textLength="152.5" lengthAdjust="spacingAndGlyphs">MADS <tspan font-size="10.5" stroke-width="0.25">(MEF2D_f1_HM09;0.93)</tspan></text>
<rect x="122.30" y="912.50" width="22.32" height="15.85" fill="rgb(252,240,241)"/>
<rect x="144.52" y="912.50" width="22.32" height="15.85" fill="rgb(247,219,221)"/>
<rect x="166.74" y="912.50" width="22.32" height="15.85" fill="rgb(230,142,148)"/>
<rect x="188.96" y="912.50" width="22.32" height="15.85" fill="rgb(204,30,40)"/>
<rect x="211.18" y="912.50" width="22.32" height="15.85" fill="rgb(247,219,221)"/>
<rect x="233.40" y="912.50" width="22.32" height="15.85" fill="rgb(247,219,221)"/>
<rect x="255.62" y="912.50" width="22.32" height="15.85" fill="rgb(247,219,221)"/>
<text class="hv" x="133.4" y="923.7">1.1</text>
<text class="hv" x="155.6" y="923.7">1.3</text>
<text class="hv" x="177.8" y="923.7">1.7</text>
<text class="hv" x="200.1" y="923.7">2.5</text>
<text class="hv" x="222.3" y="923.7">1.5</text>
<text class="hv" x="244.5" y="923.7">1.3</text>
<text class="hv" x="266.7" y="923.7">1.2</text>
<text x="283.5" y="924.1" font-size="13.2" stroke="#000" stroke-width="0.15" textLength="143.0" lengthAdjust="spacingAndGlyphs">E-Box <tspan font-size="10.5" stroke-width="0.25">(TFEB_f1_HM09;0.88)</tspan></text>
<rect x="122.30" y="928.25" width="22.32" height="15.85" fill="rgb(252,240,241)"/>
<rect x="144.52" y="928.25" width="22.32" height="15.85" fill="rgb(247,219,221)"/>
<rect x="166.74" y="928.25" width="22.32" height="15.85" fill="rgb(235,165,169)"/>
<rect x="188.96" y="928.25" width="22.32" height="15.85" fill="rgb(214,75,83)"/>
<rect x="211.18" y="928.25" width="22.32" height="15.85" fill="rgb(252,240,241)"/>
<rect x="233.40" y="928.25" width="22.32" height="15.85" fill="rgb(252,240,241)"/>
<text class="hv" x="133.4" y="939.5">1.3</text>
<text class="hv" x="155.6" y="939.5">1.5</text>
<text class="hv" x="177.8" y="939.5">1.7</text>
<text class="hv" x="200.1" y="939.5">2.5</text>
<text class="hv" x="222.3" y="939.5">1.4</text>
<text class="hv" x="244.5" y="939.5">1.3</text>
<text class="hv" x="266.7" y="939.5">1.1</text>
<text x="283.5" y="939.9" font-size="13.2" stroke="#000" stroke-width="0.15" textLength="217.5" lengthAdjust="spacingAndGlyphs">RUNX <tspan font-size="10.5" stroke-width="0.25">(Jurkat-RUNX1-ChIP-Seq/Homer;0.91)</tspan></text>
<g class="lg" font-weight="bold" font-size="10" stroke-width="1.15" vector-effect="non-scaling-stroke" stroke-linejoin="round">
<text transform="translate(7.10,675.95) scale(1.115,0.232)" fill="#eaa722" stroke="#eaa722">G</text><text transform="translate(7.10,674.26) scale(1.201,1.622)" fill="#2b3a96" stroke="#2b3a96">C</text><text transform="translate(15.95,675.95) scale(1.201,1.853)" fill="#2b3a96" stroke="#2b3a96">C</text><text transform="translate(24.80,675.95) scale(1.419,1.853)" fill="#cc1f2a" stroke="#cc1f2a">T</text><text transform="translate(33.65,675.95) scale(1.419,1.853)" fill="#cc1f2a" stroke="#cc1f2a">T</text><text transform="translate(42.50,675.95) scale(1.419,1.853)" fill="#cc1f2a" stroke="#cc1f2a">T</text><text transform="translate(51.35,675.95) scale(1.201,0.232)" fill="#5a9e32" stroke="#5a9e32">A</text><text transform="translate(51.35,674.26) scale(1.115,1.622)" fill="#eaa722" stroke="#eaa722">G</text><text transform="translate(60.20,675.95) scale(1.201,0.232)" fill="#2b3a96" stroke="#2b3a96">C</text><text transform="translate(60.20,674.26) scale(1.201,1.622)" fill="#5a9e32" stroke="#5a9e32">A</text><text transform="translate(69.05,675.95) scale(1.201,1.853)" fill="#2b3a96" stroke="#2b3a96">C</text><text transform="translate(77.90,675.95) scale(1.201,1.853)" fill="#2b3a96" stroke="#2b3a96">C</text><text transform="translate(86.75,675.95) scale(1.419,1.853)" fill="#cc1f2a" stroke="#cc1f2a">T</text><text transform="translate(95.60,675.95) scale(1.419,1.853)" fill="#cc1f2a" stroke="#cc1f2a">T</text><text transform="translate(104.45,675.95) scale(1.201,0.232)" fill="#5a9e32" stroke="#5a9e32">A</text><text transform="translate(104.45,674.26) scale(1.419,1.622)" fill="#cc1f2a" stroke="#cc1f2a">T</text>
<text transform="translate(11.53,691.70) scale(1.115,0.463)" fill="#eaa722" stroke="#eaa722">G</text><text transform="translate(11.53,688.32) scale(1.201,1.158)" fill="#5a9e32" stroke="#5a9e32">A</text><text transform="translate(20.38,691.70) scale(1.201,0.463)" fill="#2b3a96" stroke="#2b3a96">C</text><text transform="translate(20.38,688.32) scale(1.201,1.390)" fill="#5a9e32" stroke="#5a9e32">A</text><text transform="translate(29.23,691.70) scale(1.115,0.463)" fill="#eaa722" stroke="#eaa722">G</text><text transform="translate(29.23,688.32) scale(1.201,1.390)" fill="#5a9e32" stroke="#5a9e32">A</text><text transform="translate(38.08,691.70) scale(1.201,0.463)" fill="#5a9e32" stroke="#5a9e32">A</text><text transform="translate(38.08,688.32) scale(1.115,0.927)" fill="#eaa722" stroke="#eaa722">G</text><text transform="translate(46.93,691.70) scale(1.115,0.463)" fill="#eaa722" stroke="#eaa722">G</text><text transform="translate(46.93,688.32) scale(1.201,1.158)" fill="#5a9e32" stroke="#5a9e32">A</text><text transform="translate(55.78,691.70) scale(1.201,0.463)" fill="#5a9e32" stroke="#5a9e32">A</text><text transform="translate(55.78,688.32) scale(1.115,1.390)" fill="#eaa722" stroke="#eaa722">G</text><text transform="translate(64.63,691.70) scale(1.201,0.232)" fill="#5a9e32" stroke="#5a9e32">A</text><text transform="translate(64.63,690.01) scale(1.115,1.622)" fill="#eaa722" stroke="#eaa722">G</text><text transform="translate(73.48,691.70) scale(1.115,0.232)" fill="#eaa722" stroke="#eaa722">G</text><text transform="translate(73.48,690.01) scale(1.201,1.622)" fill="#5a9e32" stroke="#5a9e32">A</text><text transform="translate(82.33,691.70) scale(1.115,0.232)" fill="#eaa722" stroke="#eaa722">G</text><text transform="translate(82.33,690.01) scale(1.201,1.622)" fill="#5a9e32" stroke="#5a9e32">A</text><text transform="translate(91.17,691.70) scale(1.419,0.463)" fill="#cc1f2a" stroke="#cc1f2a">T</text><text transform="translate(91.17,688.32) scale(1.115,1.158)" fill="#eaa722" stroke="#eaa722">G</text><text transform="translate(100.02,691.70) scale(1.115,0.463)" fill="#eaa722" stroke="#eaa722">G</text><text transform="translate(100.02,688.32) scale(1.419,1.390)" fill="#cc1f2a" stroke="#cc1f2a">T</text>
<text transform="translate(5.95,707.45) scale(1.133,0.232)" fill="#2b3a96" stroke="#2b3a96">C</text><text transform="translate(5.95,705.76) scale(1.339,1.622)" fill="#cc1f2a" stroke="#cc1f2a">T</text><text transform="translate(14.30,707.45) scale(1.339,1.853)" fill="#cc1f2a" stroke="#cc1f2a">T</text><text transform="translate(22.64,707.45) scale(1.133,0.232)" fill="#2b3a96" stroke="#2b3a96">C</text><text transform="translate(22.64,705.76) scale(1.339,1.622)" fill="#cc1f2a" stroke="#cc1f2a">T</text><text transform="translate(30.99,707.45) scale(1.339,0.232)" fill="#cc1f2a" stroke="#cc1f2a">T</text><text transform="translate(30.99,705.76) scale(1.133,1.622)" fill="#2b3a96" stroke="#2b3a96">C</text><text transform="translate(39.33,707.45) scale(1.133,0.232)" fill="#2b3a96" stroke="#2b3a96">C</text><text transform="translate(39.33,705.76) scale(1.133,1.622)" fill="#5a9e32" stroke="#5a9e32">A</text><text transform="translate(47.68,707.45) scale(1.339,0.463)" fill="#cc1f2a" stroke="#cc1f2a">T</text><text transform="translate(47.68,704.07) scale(1.133,1.158)" fill="#2b3a96" stroke="#2b3a96">C</text><text transform="translate(56.03,707.45) scale(1.339,1.853)" fill="#cc1f2a" stroke="#cc1f2a">T</text><text transform="translate(64.37,707.45) scale(1.339,1.853)" fill="#cc1f2a" stroke="#cc1f2a">T</text><text transform="translate(72.72,707.45) scale(1.339,0.232)" fill="#cc1f2a" stroke="#cc1f2a">T</text><text transform="translate(72.72,705.76) scale(1.133,1.622)" fill="#2b3a96" stroke="#2b3a96">C</text><text transform="translate(81.07,707.45) scale(1.133,1.853)" fill="#2b3a96" stroke="#2b3a96">C</text><text transform="translate(89.41,707.45) scale(1.133,0.695)" fill="#2b3a96" stroke="#2b3a96">C</text><text transform="translate(89.41,702.38) scale(1.339,0.927)" fill="#cc1f2a" stroke="#cc1f2a">T</text><text transform="translate(97.76,707.45) scale(1.339,0.463)" fill="#cc1f2a" stroke="#cc1f2a">T</text><text transform="translate(97.76,704.07) scale(1.133,1.158)" fill="#2b3a96" stroke="#2b3a96">C</text><text transform="translate(106.10,707.45) scale(1.133,0.232)" fill="#2b3a96" stroke="#2b3a96">C</text><text transform="translate(106.10,705.76) scale(1.339,1.622)" fill="#cc1f2a" stroke="#cc1f2a">T</text>
<text transform="translate(7.10,723.20) scale(1.201,0.232)" fill="#5a9e32" stroke="#5a9e32">A</text><text transform="translate(7.10,721.51) scale(1.115,1.622)" fill="#eaa722" stroke="#eaa722">G</text><text transform="translate(15.95,723.20) scale(1.201,1.853)" fill="#5a9e32" stroke="#5a9e32">A</text><text transform="translate(24.80,723.20) scale(1.201,1.853)" fill="#5a9e32" stroke="#5a9e32">A</text><text transform="translate(33.65,723.20) scale(1.201,1.853)" fill="#5a9e32" stroke="#5a9e32">A</text><text transform="translate(42.50,723.20) scale(1.419,0.695)" fill="#cc1f2a" stroke="#cc1f2a">T</text><text transform="translate(42.50,718.13) scale(1.201,0.927)" fill="#2b3a96" stroke="#2b3a96">C</text><text transform="translate(51.35,723.20) scale(1.201,0.232)" fill="#5a9e32" stroke="#5a9e32">A</text><text transform="translate(51.35,721.51) scale(1.419,1.622)" fill="#cc1f2a" stroke="#cc1f2a">T</text><text transform="translate(60.20,723.20) scale(1.115,1.853)" fill="#eaa722" stroke="#eaa722">G</text><text transform="translate(69.05,723.20) scale(1.201,1.853)" fill="#5a9e32" stroke="#5a9e32">A</text><text transform="translate(77.90,723.20) scale(1.201,1.853)" fill="#5a9e32" stroke="#5a9e32">A</text><text transform="translate(86.75,723.20) scale(1.201,1.853)" fill="#5a9e32" stroke="#5a9e32">A</text><text transform="translate(95.60,723.20) scale(1.419,0.695)" fill="#cc1f2a" stroke="#cc1f2a">T</text><text transform="translate(95.60,718.13) scale(1.201,0.927)" fill="#2b3a96" stroke="#2b3a96">C</text><text transform="translate(104.45,723.20) scale(1.201,0.463)" fill="#2b3a96" stroke="#2b3a96">C</text><text transform="translate(104.45,719.82) scale(1.419,1.158)" fill="#cc1f2a" stroke="#cc1f2a">T</text>
<text transform="translate(11.53,738.95) scale(1.201,0.232)" fill="#2b3a96" stroke="#2b3a96">C</text><text transform="translate(11.53,737.26) scale(1.419,1.622)" fill="#cc1f2a" stroke="#cc1f2a">T</text><text transform="translate(20.38,738.95) scale(1.419,1.853)" fill="#cc1f2a" stroke="#cc1f2a">T</text><text transform="translate(29.23,738.95) scale(1.115,1.853)" fill="#eaa722" stroke="#eaa722">G</text><text transform="translate(38.08,738.95) scale(1.115,1.853)" fill="#eaa722" stroke="#eaa722">G</text><text transform="translate(46.93,738.95) scale(1.201,0.232)" fill="#5a9e32" stroke="#5a9e32">A</text><text transform="translate(46.93,737.26) scale(1.115,1.622)" fill="#eaa722" stroke="#eaa722">G</text><text transform="translate(55.78,738.95) scale(1.115,0.232)" fill="#eaa722" stroke="#eaa722">G</text><text transform="translate(55.78,737.26) scale(1.419,1.622)" fill="#cc1f2a" stroke="#cc1f2a">T</text><text transform="translate(64.63,738.95) scale(1.419,0.232)" fill="#cc1f2a" stroke="#cc1f2a">T</text><text transform="translate(64.63,737.26) scale(1.115,1.622)" fill="#eaa722" stroke="#eaa722">G</text><text transform="translate(73.48,738.95) scale(1.115,0.232)" fill="#eaa722" stroke="#eaa722">G</text><text transform="translate(73.48,737.26) scale(1.419,1.622)" fill="#cc1f2a" stroke="#cc1f2a">T</text><text transform="translate(82.33,738.95) scale(1.419,0.232)" fill="#cc1f2a" stroke="#cc1f2a">T</text><text transform="translate(82.33,737.26) scale(1.115,1.622)" fill="#eaa722" stroke="#eaa722">G</text><text transform="translate(91.17,738.95) scale(1.201,0.232)" fill="#5a9e32" stroke="#5a9e32">A</text><text transform="translate(91.17,737.26) scale(1.115,1.622)" fill="#eaa722" stroke="#eaa722">G</text><text transform="translate(100.02,738.95) scale(1.201,0.463)" fill="#5a9e32" stroke="#5a9e32">A</text><text transform="translate(100.02,735.57) scale(1.419,1.158)" fill="#cc1f2a" stroke="#cc1f2a">T</text>
<text transform="translate(7.10,754.70) scale(1.419,1.853)" fill="#cc1f2a" stroke="#cc1f2a">T</text><text transform="translate(15.95,754.70) scale(1.419,1.853)" fill="#cc1f2a" stroke="#cc1f2a">T</text><text transform="translate(24.80,754.70) scale(1.419,1.853)" fill="#cc1f2a" stroke="#cc1f2a">T</text><text transform="translate(33.65,754.70) scale(1.419,1.853)" fill="#cc1f2a" stroke="#cc1f2a">T</text><text transform="translate(42.50,754.70) scale(1.201,1.853)" fill="#2b3a96" stroke="#2b3a96">C</text><text transform="translate(51.35,754.70) scale(1.115,0.695)" fill="#eaa722" stroke="#eaa722">G</text><text transform="translate(51.35,749.63) scale(1.201,1.158)" fill="#2b3a96" stroke="#2b3a96">C</text><text transform="translate(60.20,754.70) scale(1.201,1.853)" fill="#2b3a96" stroke="#2b3a96">C</text><text transform="translate(69.05,754.70) scale(1.201,0.232)" fill="#2b3a96" stroke="#2b3a96">C</text><text transform="translate(69.05,753.01) scale(1.115,1.622)" fill="#eaa722" stroke="#eaa722">G</text><text transform="translate(77.90,754.70) scale(1.201,1.853)" fill="#2b3a96" stroke="#2b3a96">C</text><text transform="translate(86.75,754.70) scale(1.201,1.853)" fill="#2b3a96" stroke="#2b3a96">C</text><text transform="translate(95.60,754.70) scale(1.115,0.695)" fill="#eaa722" stroke="#eaa722">G</text><text transform="translate(95.60,749.63) scale(1.201,1.158)" fill="#2b3a96" stroke="#2b3a96">C</text><text transform="translate(104.45,754.70) scale(1.115,0.232)" fill="#eaa722" stroke="#eaa722">G</text><text transform="translate(104.45,753.01) scale(1.201,1.622)" fill="#2b3a96" stroke="#2b3a96">C</text>
<text transform="translate(7.10,770.45) scale(1.201,0.232)" fill="#2b3a96" stroke="#2b3a96">C</text><text transform="translate(7.10,768.76) scale(1.115,1.622)" fill="#eaa722" stroke="#eaa722">G</text><text transform="translate(15.95,770.45) scale(1.201,1.853)" fill="#2b3a96" stroke="#2b3a96">C</text><text transform="translate(24.80,770.45) scale(1.115,1.853)" fill="#eaa722" stroke="#eaa722">G</text><text transform="translate(33.65,770.45) scale(1.201,1.853)" fill="#2b3a96" stroke="#2b3a96">C</text><text transform="translate(42.50,770.45) scale(1.201,1.853)" fill="#5a9e32" stroke="#5a9e32">A</text><text transform="translate(51.35,770.45) scale(1.419,1.853)" fill="#cc1f2a" stroke="#cc1f2a">T</text><text transform="translate(60.20,770.45) scale(1.115,1.853)" fill="#eaa722" stroke="#eaa722">G</text><text transform="translate(69.05,770.45) scale(1.201,1.853)" fill="#2b3a96" stroke="#2b3a96">C</text><text transform="translate(77.90,770.45) scale(1.115,1.853)" fill="#eaa722" stroke="#eaa722">G</text><text transform="translate(86.75,770.45) scale(1.201,1.853)" fill="#2b3a96" stroke="#2b3a96">C</text><text transform="translate(95.60,770.45) scale(1.115,0.232)" fill="#eaa722" stroke="#eaa722">G</text><text transform="translate(95.60,768.76) scale(1.201,1.622)" fill="#5a9e32" stroke="#5a9e32">A</text><text transform="translate(104.45,770.45) scale(1.201,0.463)" fill="#5a9e32" stroke="#5a9e32">A</text><text transform="translate(104.45,767.07) scale(1.201,1.390)" fill="#2b3a96" stroke="#2b3a96">C</text>
<text transform="translate(5.95,786.20) scale(1.339,0.463)" fill="#cc1f2a" stroke="#cc1f2a">T</text><text transform="translate(5.95,782.82) scale(1.133,0.463)" fill="#5a9e32" stroke="#5a9e32">A</text><text transform="translate(5.95,779.44) scale(1.051,0.463)" fill="#eaa722" stroke="#eaa722">G</text><text transform="translate(5.95,776.07) scale(1.133,0.463)" fill="#2b3a96" stroke="#2b3a96">C</text><text transform="translate(14.30,786.20) scale(1.133,0.463)" fill="#5a9e32" stroke="#5a9e32">A</text><text transform="translate(14.30,782.82) scale(1.133,0.463)" fill="#5a9e32" stroke="#5a9e32">A</text><text transform="translate(14.30,779.44) scale(1.051,0.695)" fill="#eaa722" stroke="#eaa722">G</text><text transform="translate(22.64,786.20) scale(1.133,0.463)" fill="#5a9e32" stroke="#5a9e32">A</text><text transform="translate(22.64,782.82) scale(1.133,0.463)" fill="#5a9e32" stroke="#5a9e32">A</text><text transform="translate(22.64,779.44) scale(1.051,0.695)" fill="#eaa722" stroke="#eaa722">G</text><text transform="translate(30.99,786.20) scale(1.133,1.853)" fill="#2b3a96" stroke="#2b3a96">C</text><text transform="translate(39.33,786.20) scale(1.133,1.853)" fill="#2b3a96" stroke="#2b3a96">C</text><text transform="translate(47.68,786.20) scale(1.133,1.853)" fill="#5a9e32" stroke="#5a9e32">A</text><text transform="translate(56.03,786.20) scale(1.133,1.853)" fill="#5a9e32" stroke="#5a9e32">A</text><text transform="translate(64.37,786.20) scale(1.339,1.853)" fill="#cc1f2a" stroke="#cc1f2a">T</text><text transform="translate(72.72,786.20) scale(1.133,0.463)" fill="#5a9e32" stroke="#5a9e32">A</text><text transform="translate(72.72,782.82) scale(1.051,0.463)" fill="#eaa722" stroke="#eaa722">G</text><text transform="translate(72.72,779.44) scale(1.133,0.695)" fill="#2b3a96" stroke="#2b3a96">C</text><text transform="translate(81.07,786.20) scale(1.133,0.463)" fill="#5a9e32" stroke="#5a9e32">A</text><text transform="translate(81.07,782.82) scale(1.133,0.463)" fill="#5a9e32" stroke="#5a9e32">A</text><text transform="translate(81.07,779.44) scale(1.051,0.695)" fill="#eaa722" stroke="#eaa722">G</text><text transform="translate(89.41,786.20) scale(1.051,0.463)" fill="#eaa722" stroke="#eaa722">G</text><text transform="translate(89.41,782.82) scale(1.133,0.463)" fill="#2b3a96" stroke="#2b3a96">C</text><text transform="translate(89.41,779.44) scale(1.133,0.695)" fill="#5a9e32" stroke="#5a9e32">A</text><text transform="translate(97.76,786.20) scale(1.133,0.463)" fill="#5a9e32" stroke="#5a9e32">A</text><text transform="translate(97.76,782.82) scale(1.133,0.463)" fill="#2b3a96" stroke="#2b3a96">C</text><text transform="translate(106.10,786.20) scale(1.133,0.463)" fill="#5a9e32" stroke="#5a9e32">A</text><text transform="translate(106.10,782.82) scale(1.051,0.695)" fill="#eaa722" stroke="#eaa722">G</text>
<text transform="translate(7.10,801.95) scale(1.201,0.695)" fill="#5a9e32" stroke="#5a9e32">A</text><text transform="translate(7.10,796.88) scale(1.419,1.158)" fill="#cc1f2a" stroke="#cc1f2a">T</text><text transform="translate(15.95,801.95) scale(1.201,0.232)" fill="#2b3a96" stroke="#2b3a96">C</text><text transform="translate(15.95,800.26) scale(1.201,1.622)" fill="#5a9e32" stroke="#5a9e32">A</text><text transform="translate(24.80,801.95) scale(1.419,1.853)" fill="#cc1f2a" stroke="#cc1f2a">T</text><text transform="translate(33.65,801.95) scale(1.115,1.853)" fill="#eaa722" stroke="#eaa722">G</text><text transform="translate(42.50,801.95) scale(1.201,1.853)" fill="#2b3a96" stroke="#2b3a96">C</text><text transform="translate(51.35,801.95) scale(1.201,1.853)" fill="#5a9e32" stroke="#5a9e32">A</text><text transform="translate(60.20,801.95) scale(1.201,1.853)" fill="#5a9e32" stroke="#5a9e32">A</text><text transform="translate(69.05,801.95) scale(1.201,1.853)" fill="#5a9e32" stroke="#5a9e32">A</text><text transform="translate(77.90,801.95) scale(1.419,1.853)" fill="#cc1f2a" stroke="#cc1f2a">T</text><text transform="translate(86.75,801.95) scale(1.419,1.853)" fill="#cc1f2a" stroke="#cc1f2a">T</text><text transform="translate(95.60,801.95) scale(1.419,0.232)" fill="#cc1f2a" stroke="#cc1f2a">T</text><text transform="translate(95.60,800.26) scale(1.201,1.622)" fill="#5a9e32" stroke="#5a9e32">A</text><text transform="translate(104.45,801.95) scale(1.201,0.463)" fill="#5a9e32" stroke="#5a9e32">A</text><text transform="translate(104.45,798.57) scale(1.115,1.158)" fill="#eaa722" stroke="#eaa722">G</text>
<text transform="translate(15.95,817.70) scale(1.419,0.463)" fill="#cc1f2a" stroke="#cc1f2a">T</text><text transform="translate(15.95,814.32) scale(1.201,0.463)" fill="#5a9e32" stroke="#5a9e32">A</text><text transform="translate(15.95,810.94) scale(1.115,0.695)" fill="#eaa722" stroke="#eaa722">G</text><text transform="translate(24.80,817.70) scale(1.201,0.463)" fill="#2b3a96" stroke="#2b3a96">C</text><text transform="translate(24.80,814.32) scale(1.419,0.463)" fill="#cc1f2a" stroke="#cc1f2a">T</text><text transform="translate(24.80,810.94) scale(1.201,0.695)" fill="#5a9e32" stroke="#5a9e32">A</text><text transform="translate(33.65,817.70) scale(1.419,1.853)" fill="#cc1f2a" stroke="#cc1f2a">T</text><text transform="translate(42.50,817.70) scale(1.419,1.853)" fill="#cc1f2a" stroke="#cc1f2a">T</text><text transform="translate(51.35,817.70) scale(1.419,0.463)" fill="#cc1f2a" stroke="#cc1f2a">T</text><text transform="translate(51.35,814.32) scale(1.115,0.463)" fill="#eaa722" stroke="#eaa722">G</text><text transform="translate(51.35,810.94) scale(1.201,0.695)" fill="#5a9e32" stroke="#5a9e32">A</text><text transform="translate(60.20,817.70) scale(1.419,0.463)" fill="#cc1f2a" stroke="#cc1f2a">T</text><text transform="translate(60.20,814.32) scale(1.115,0.463)" fill="#eaa722" stroke="#eaa722">G</text><text transform="translate(60.20,810.94) scale(1.201,0.695)" fill="#2b3a96" stroke="#2b3a96">C</text><text transform="translate(69.05,817.70) scale(1.201,0.463)" fill="#5a9e32" stroke="#5a9e32">A</text><text transform="translate(69.05,814.32) scale(1.201,0.463)" fill="#2b3a96" stroke="#2b3a96">C</text><text transform="translate(69.05,810.94) scale(1.115,0.695)" fill="#eaa722" stroke="#eaa722">G</text><text transform="translate(77.90,817.70) scale(1.201,0.463)" fill="#5a9e32" stroke="#5a9e32">A</text><text transform="translate(77.90,814.32) scale(1.419,0.463)" fill="#cc1f2a" stroke="#cc1f2a">T</text><text transform="translate(77.90,810.94) scale(1.201,0.695)" fill="#2b3a96" stroke="#2b3a96">C</text><text transform="translate(86.75,817.70) scale(1.201,1.853)" fill="#5a9e32" stroke="#5a9e32">A</text><text transform="translate(95.60,817.70) scale(1.201,1.853)" fill="#5a9e32" stroke="#5a9e32">A</text>
<text transform="translate(5.95,833.45) scale(1.133,0.463)" fill="#5a9e32" stroke="#5a9e32">A</text><text transform="translate(5.95,830.07) scale(1.133,0.463)" fill="#2b3a96" stroke="#2b3a96">C</text><text transform="translate(5.95,826.69) scale(1.051,0.695)" fill="#eaa722" stroke="#eaa722">G</text><text transform="translate(14.30,833.45) scale(1.133,1.853)" fill="#2b3a96" stroke="#2b3a96">C</text><text transform="translate(22.64,833.45) scale(1.133,1.853)" fill="#2b3a96" stroke="#2b3a96">C</text><text transform="translate(30.99,833.45) scale(1.133,1.853)" fill="#2b3a96" stroke="#2b3a96">C</text><text transform="translate(39.33,833.45) scale(1.133,1.853)" fill="#2b3a96" stroke="#2b3a96">C</text><text transform="translate(47.68,833.45) scale(1.133,0.463)" fill="#5a9e32" stroke="#5a9e32">A</text><text transform="translate(47.68,830.07) scale(1.133,0.463)" fill="#2b3a96" stroke="#2b3a96">C</text><text transform="translate(47.68,826.69) scale(1.051,0.927)" fill="#eaa722" stroke="#eaa722">G</text><text transform="translate(56.03,833.45) scale(1.133,1.853)" fill="#2b3a96" stroke="#2b3a96">C</text><text transform="translate(64.37,833.45) scale(1.133,1.853)" fill="#2b3a96" stroke="#2b3a96">C</text><text transform="translate(72.72,833.45) scale(1.133,1.853)" fill="#2b3a96" stroke="#2b3a96">C</text><text transform="translate(81.07,833.45) scale(1.133,1.853)" fill="#2b3a96" stroke="#2b3a96">C</text><text transform="translate(89.41,833.45) scale(1.133,1.853)" fill="#2b3a96" stroke="#2b3a96">C</text><text transform="translate(97.76,833.45) scale(1.133,0.463)" fill="#2b3a96" stroke="#2b3a96">C</text><text transform="translate(97.76,830.07) scale(1.339,1.390)" fill="#cc1f2a" stroke="#cc1f2a">T</text><text transform="translate(106.10,833.45) scale(1.133,0.463)" fill="#2b3a96" stroke="#2b3a96">C</text><text transform="translate(106.10,830.07) scale(1.339,1.390)" fill="#cc1f2a" stroke="#cc1f2a">T</text>
<text transform="translate(7.10,849.20) scale(1.419,0.463)" fill="#cc1f2a" stroke="#cc1f2a">T</text><text transform="translate(7.10,845.82) scale(1.115,0.463)" fill="#eaa722" stroke="#eaa722">G</text><text transform="translate(7.10,842.44) scale(1.201,0.695)" fill="#5a9e32" stroke="#5a9e32">A</text><text transform="translate(15.95,849.20) scale(1.115,1.853)" fill="#eaa722" stroke="#eaa722">G</text><text transform="translate(24.80,849.20) scale(1.115,1.853)" fill="#eaa722" stroke="#eaa722">G</text><text transform="translate(33.65,849.20) scale(1.115,1.853)" fill="#eaa722" stroke="#eaa722">G</text><text transform="translate(42.50,849.20) scale(1.201,0.695)" fill="#5a9e32" stroke="#5a9e32">A</text><text transform="translate(42.50,844.13) scale(1.201,0.927)" fill="#2b3a96" stroke="#2b3a96">C</text><text transform="translate(51.35,849.20) scale(1.115,1.853)" fill="#eaa722" stroke="#eaa722">G</text><text transform="translate(60.20,849.20) scale(1.115,1.853)" fill="#eaa722" stroke="#eaa722">G</text><text transform="translate(69.05,849.20) scale(1.201,1.853)" fill="#5a9e32" stroke="#5a9e32">A</text><text transform="translate(77.90,849.20) scale(1.115,1.853)" fill="#eaa722" stroke="#eaa722">G</text><text transform="translate(86.75,849.20) scale(1.201,0.463)" fill="#2b3a96" stroke="#2b3a96">C</text><text transform="translate(86.75,845.82) scale(1.419,1.390)" fill="#cc1f2a" stroke="#cc1f2a">T</text><text transform="translate(95.60,849.20) scale(1.419,0.463)" fill="#cc1f2a" stroke="#cc1f2a">T</text><text transform="translate(95.60,845.82) scale(1.201,1.390)" fill="#2b3a96" stroke="#2b3a96">C</text><text transform="translate(104.45,849.20) scale(1.201,0.463)" fill="#2b3a96" stroke="#2b3a96">C</text><text transform="translate(104.45,845.82) scale(1.419,1.390)" fill="#cc1f2a" stroke="#cc1f2a">T</text>
<text transform="translate(20.38,864.95) scale(1.201,0.232)" fill="#2b3a96" stroke="#2b3a96">C</text><text transform="translate(20.38,863.26) scale(1.201,1.622)" fill="#5a9e32" stroke="#5a9e32">A</text><text transform="translate(29.23,864.95) scale(1.419,1.853)" fill="#cc1f2a" stroke="#cc1f2a">T</text><text transform="translate(38.08,864.95) scale(1.115,1.853)" fill="#eaa722" stroke="#eaa722">G</text><text transform="translate(46.93,864.95) scale(1.201,1.853)" fill="#5a9e32" stroke="#5a9e32">A</text><text transform="translate(55.78,864.95) scale(1.201,0.232)" fill="#5a9e32" stroke="#5a9e32">A</text><text transform="translate(55.78,863.26) scale(1.115,1.622)" fill="#eaa722" stroke="#eaa722">G</text><text transform="translate(64.63,864.95) scale(1.419,1.853)" fill="#cc1f2a" stroke="#cc1f2a">T</text><text transform="translate(73.48,864.95) scale(1.201,1.853)" fill="#2b3a96" stroke="#2b3a96">C</text><text transform="translate(82.33,864.95) scale(1.201,1.853)" fill="#5a9e32" stroke="#5a9e32">A</text><text transform="translate(91.17,864.95) scale(1.201,0.463)" fill="#5a9e32" stroke="#5a9e32">A</text><text transform="translate(91.17,861.57) scale(1.201,1.390)" fill="#2b3a96" stroke="#2b3a96">C</text>
<text transform="translate(15.95,880.70) scale(1.201,1.853)" fill="#2b3a96" stroke="#2b3a96">C</text><text transform="translate(24.80,880.70) scale(1.419,1.853)" fill="#cc1f2a" stroke="#cc1f2a">T</text><text transform="translate(33.65,880.70) scale(1.115,1.853)" fill="#eaa722" stroke="#eaa722">G</text><text transform="translate(42.50,880.70) scale(1.419,1.853)" fill="#cc1f2a" stroke="#cc1f2a">T</text><text transform="translate(51.35,880.70) scale(1.419,0.927)" fill="#cc1f2a" stroke="#cc1f2a">T</text><text transform="translate(51.35,873.94) scale(1.201,0.695)" fill="#5a9e32" stroke="#5a9e32">A</text><text transform="translate(60.20,880.70) scale(1.201,1.853)" fill="#5a9e32" stroke="#5a9e32">A</text><text transform="translate(69.05,880.70) scale(1.201,1.853)" fill="#2b3a96" stroke="#2b3a96">C</text><text transform="translate(77.90,880.70) scale(1.201,1.853)" fill="#5a9e32" stroke="#5a9e32">A</text><text transform="translate(86.75,880.70) scale(1.115,1.853)" fill="#eaa722" stroke="#eaa722">G</text><text transform="translate(95.60,880.70) scale(1.115,0.232)" fill="#eaa722" stroke="#eaa722">G</text><text transform="translate(95.60,879.01) scale(1.201,1.390)" fill="#2b3a96" stroke="#2b3a96">C</text>
<text transform="translate(7.10,896.45) scale(1.201,0.232)" fill="#5a9e32" stroke="#5a9e32">A</text><text transform="translate(7.10,894.76) scale(1.115,1.622)" fill="#eaa722" stroke="#eaa722">G</text><text transform="translate(15.95,896.45) scale(1.115,1.853)" fill="#eaa722" stroke="#eaa722">G</text><text transform="translate(24.80,896.45) scale(1.115,1.853)" fill="#eaa722" stroke="#eaa722">G</text><text transform="translate(33.65,896.45) scale(1.201,1.853)" fill="#5a9e32" stroke="#5a9e32">A</text><text transform="translate(42.50,896.45) scale(1.201,1.853)" fill="#5a9e32" stroke="#5a9e32">A</text><text transform="translate(51.35,896.45) scale(1.419,0.463)" fill="#cc1f2a" stroke="#cc1f2a">T</text><text transform="translate(51.35,893.07) scale(1.201,1.158)" fill="#5a9e32" stroke="#5a9e32">A</text><text transform="translate(60.20,896.45) scale(1.201,0.463)" fill="#2b3a96" stroke="#2b3a96">C</text><text transform="translate(60.20,893.07) scale(1.419,1.390)" fill="#cc1f2a" stroke="#cc1f2a">T</text><text transform="translate(69.05,896.45) scale(1.419,0.463)" fill="#cc1f2a" stroke="#cc1f2a">T</text><text transform="translate(69.05,893.07) scale(1.201,1.158)" fill="#2b3a96" stroke="#2b3a96">C</text><text transform="translate(77.90,896.45) scale(1.201,1.622)" fill="#2b3a96" stroke="#2b3a96">C</text><text transform="translate(86.75,896.45) scale(1.201,1.622)" fill="#2b3a96" stroke="#2b3a96">C</text><text transform="translate(95.60,896.45) scale(1.201,0.695)" fill="#5a9e32" stroke="#5a9e32">A</text><text transform="translate(95.60,891.38) scale(1.201,0.927)" fill="#2b3a96" stroke="#2b3a96">C</text><text transform="translate(104.45,896.45) scale(1.115,0.463)" fill="#eaa722" stroke="#eaa722">G</text><text transform="translate(104.45,893.07) scale(1.201,0.695)" fill="#5a9e32" stroke="#5a9e32">A</text>
<text transform="translate(7.10,912.20) scale(1.115,0.232)" fill="#eaa722" stroke="#eaa722">G</text><text transform="translate(7.10,910.51) scale(1.201,1.622)" fill="#5a9e32" stroke="#5a9e32">A</text><text transform="translate(15.95,912.20) scale(1.201,0.232)" fill="#5a9e32" stroke="#5a9e32">A</text><text transform="translate(15.95,910.51) scale(1.115,1.622)" fill="#eaa722" stroke="#eaa722">G</text><text transform="translate(24.80,912.20) scale(1.419,0.232)" fill="#cc1f2a" stroke="#cc1f2a">T</text><text transform="translate(24.80,910.51) scale(1.201,1.622)" fill="#2b3a96" stroke="#2b3a96">C</text><text transform="translate(33.65,912.20) scale(1.419,1.853)" fill="#cc1f2a" stroke="#cc1f2a">T</text><text transform="translate(42.50,912.20) scale(1.201,1.853)" fill="#5a9e32" stroke="#5a9e32">A</text><text transform="translate(51.35,912.20) scale(1.419,1.853)" fill="#cc1f2a" stroke="#cc1f2a">T</text><text transform="translate(60.20,912.20) scale(1.419,1.853)" fill="#cc1f2a" stroke="#cc1f2a">T</text><text transform="translate(69.05,912.20) scale(1.419,1.853)" fill="#cc1f2a" stroke="#cc1f2a">T</text><text transform="translate(77.90,912.20) scale(1.419,1.853)" fill="#cc1f2a" stroke="#cc1f2a">T</text><text transform="translate(86.75,912.20) scale(1.419,1.853)" fill="#cc1f2a" stroke="#cc1f2a">T</text><text transform="translate(95.60,912.20) scale(1.201,1.853)" fill="#5a9e32" stroke="#5a9e32">A</text><text transform="translate(104.45,912.20) scale(1.201,0.463)" fill="#5a9e32" stroke="#5a9e32">A</text><text transform="translate(104.45,908.82) scale(1.115,1.158)" fill="#eaa722" stroke="#eaa722">G</text>
<text transform="translate(24.80,927.95) scale(1.419,0.463)" fill="#cc1f2a" stroke="#cc1f2a">T</text><text transform="translate(24.80,924.57) scale(1.201,0.463)" fill="#5a9e32" stroke="#5a9e32">A</text><text transform="translate(24.80,921.19) scale(1.115,0.695)" fill="#eaa722" stroke="#eaa722">G</text><text transform="translate(33.65,927.95) scale(1.419,1.853)" fill="#cc1f2a" stroke="#cc1f2a">T</text><text transform="translate(42.50,927.95) scale(1.201,1.853)" fill="#2b3a96" stroke="#2b3a96">C</text><text transform="translate(51.35,927.95) scale(1.201,1.853)" fill="#5a9e32" stroke="#5a9e32">A</text><text transform="translate(60.20,927.95) scale(1.419,0.463)" fill="#cc1f2a" stroke="#cc1f2a">T</text><text transform="translate(60.20,924.57) scale(1.201,1.158)" fill="#2b3a96" stroke="#2b3a96">C</text><text transform="translate(69.05,927.95) scale(1.201,0.695)" fill="#5a9e32" stroke="#5a9e32">A</text><text transform="translate(69.05,922.88) scale(1.115,0.927)" fill="#eaa722" stroke="#eaa722">G</text><text transform="translate(77.90,927.95) scale(1.201,0.695)" fill="#5a9e32" stroke="#5a9e32">A</text><text transform="translate(77.90,922.88) scale(1.419,0.927)" fill="#cc1f2a" stroke="#cc1f2a">T</text><text transform="translate(86.75,927.95) scale(1.201,0.695)" fill="#5a9e32" stroke="#5a9e32">A</text><text transform="translate(86.75,922.88) scale(1.115,0.927)" fill="#eaa722" stroke="#eaa722">G</text>
<text transform="translate(15.95,943.70) scale(1.201,0.463)" fill="#2b3a96" stroke="#2b3a96">C</text><text transform="translate(15.95,940.32) scale(1.115,1.158)" fill="#eaa722" stroke="#eaa722">G</text><text transform="translate(24.80,943.70) scale(1.419,1.853)" fill="#cc1f2a" stroke="#cc1f2a">T</text><text transform="translate(33.65,943.70) scale(1.115,1.853)" fill="#eaa722" stroke="#eaa722">G</text><text transform="translate(42.50,943.70) scale(1.419,1.853)" fill="#cc1f2a" stroke="#cc1f2a">T</text><text transform="translate(51.35,943.70) scale(1.115,1.853)" fill="#eaa722" stroke="#eaa722">G</text><text transform="translate(60.20,943.70) scale(1.115,1.853)" fill="#eaa722" stroke="#eaa722">G</text><text transform="translate(69.05,943.70) scale(1.419,1.853)" fill="#cc1f2a" stroke="#cc1f2a">T</text><text transform="translate(77.90,943.70) scale(1.419,1.853)" fill="#cc1f2a" stroke="#cc1f2a">T</text><text transform="translate(86.75,943.70) scale(1.201,0.463)" fill="#5a9e32" stroke="#5a9e32">A</text><text transform="translate(86.75,940.32) scale(1.419,1.158)" fill="#cc1f2a" stroke="#cc1f2a">T</text><text transform="translate(95.60,943.70) scale(1.201,0.463)" fill="#2b3a96" stroke="#2b3a96">C</text><text transform="translate(95.60,940.32) scale(1.115,0.463)" fill="#eaa722" stroke="#eaa722">G</text><text transform="translate(95.60,936.94) scale(1.201,0.695)" fill="#5a9e32" stroke="#5a9e32">A</text>
</g>
<text x="5.5" y="960.8" font-size="13.2" stroke="#000" stroke-width="0.25" textLength="110" lengthAdjust="spacingAndGlyphs">number of regions</text>
<text transform="translate(138.2,948) rotate(-90)" font-size="13.4" text-anchor="end" stroke="#000" stroke-width="0.35">627</text>
<text transform="translate(160.4,948) rotate(-90)" font-size="13.4" text-anchor="end" stroke="#000" stroke-width="0.35">1554</text>
<text transform="translate(182.7,948) rotate(-90)" font-size="13.4" text-anchor="end" stroke="#000" stroke-width="0.35">2842</text>
<text transform="translate(204.9,948) rotate(-90)" font-size="13.4" text-anchor="end" stroke="#000" stroke-width="0.35">1613</text>
<text transform="translate(227.1,948) rotate(-90)" font-size="13.4" text-anchor="end" stroke="#000" stroke-width="0.35">2124</text>
<text transform="translate(249.3,948) rotate(-90)" font-size="13.4" text-anchor="end" stroke="#000" stroke-width="0.35">1660</text>
<text transform="translate(271.5,948) rotate(-90)" font-size="13.4" text-anchor="end" stroke="#000" stroke-width="0.35">1555</text>
<defs><linearGradient id="cb"><stop offset="0" stop-color="#fff"/><stop offset="1" stop-color="#cc1e28"/></linearGradient></defs>
<rect x="342.5" y="950" width="90" height="11" fill="url(#cb)"/>
<path d="M343 958v6M431.5 958v6" stroke="#111" stroke-width="0.8"/>
<text x="343" y="972" font-size="10.5" text-anchor="middle">0</text>
<text x="430" y="972" font-size="10.5" text-anchor="middle" fill="#c4161c">-50</text>
<text x="385.5" y="984.5" font-size="14" text-anchor="middle" textLength="93.5" lengthAdjust="spacingAndGlyphs"><tspan font-style="italic">P</tspan> value (Log<tspan font-size="8.5" dy="2.5">10</tspan><tspan dy="-2.5">)</tspan></text>
</svg>
</body></html>
